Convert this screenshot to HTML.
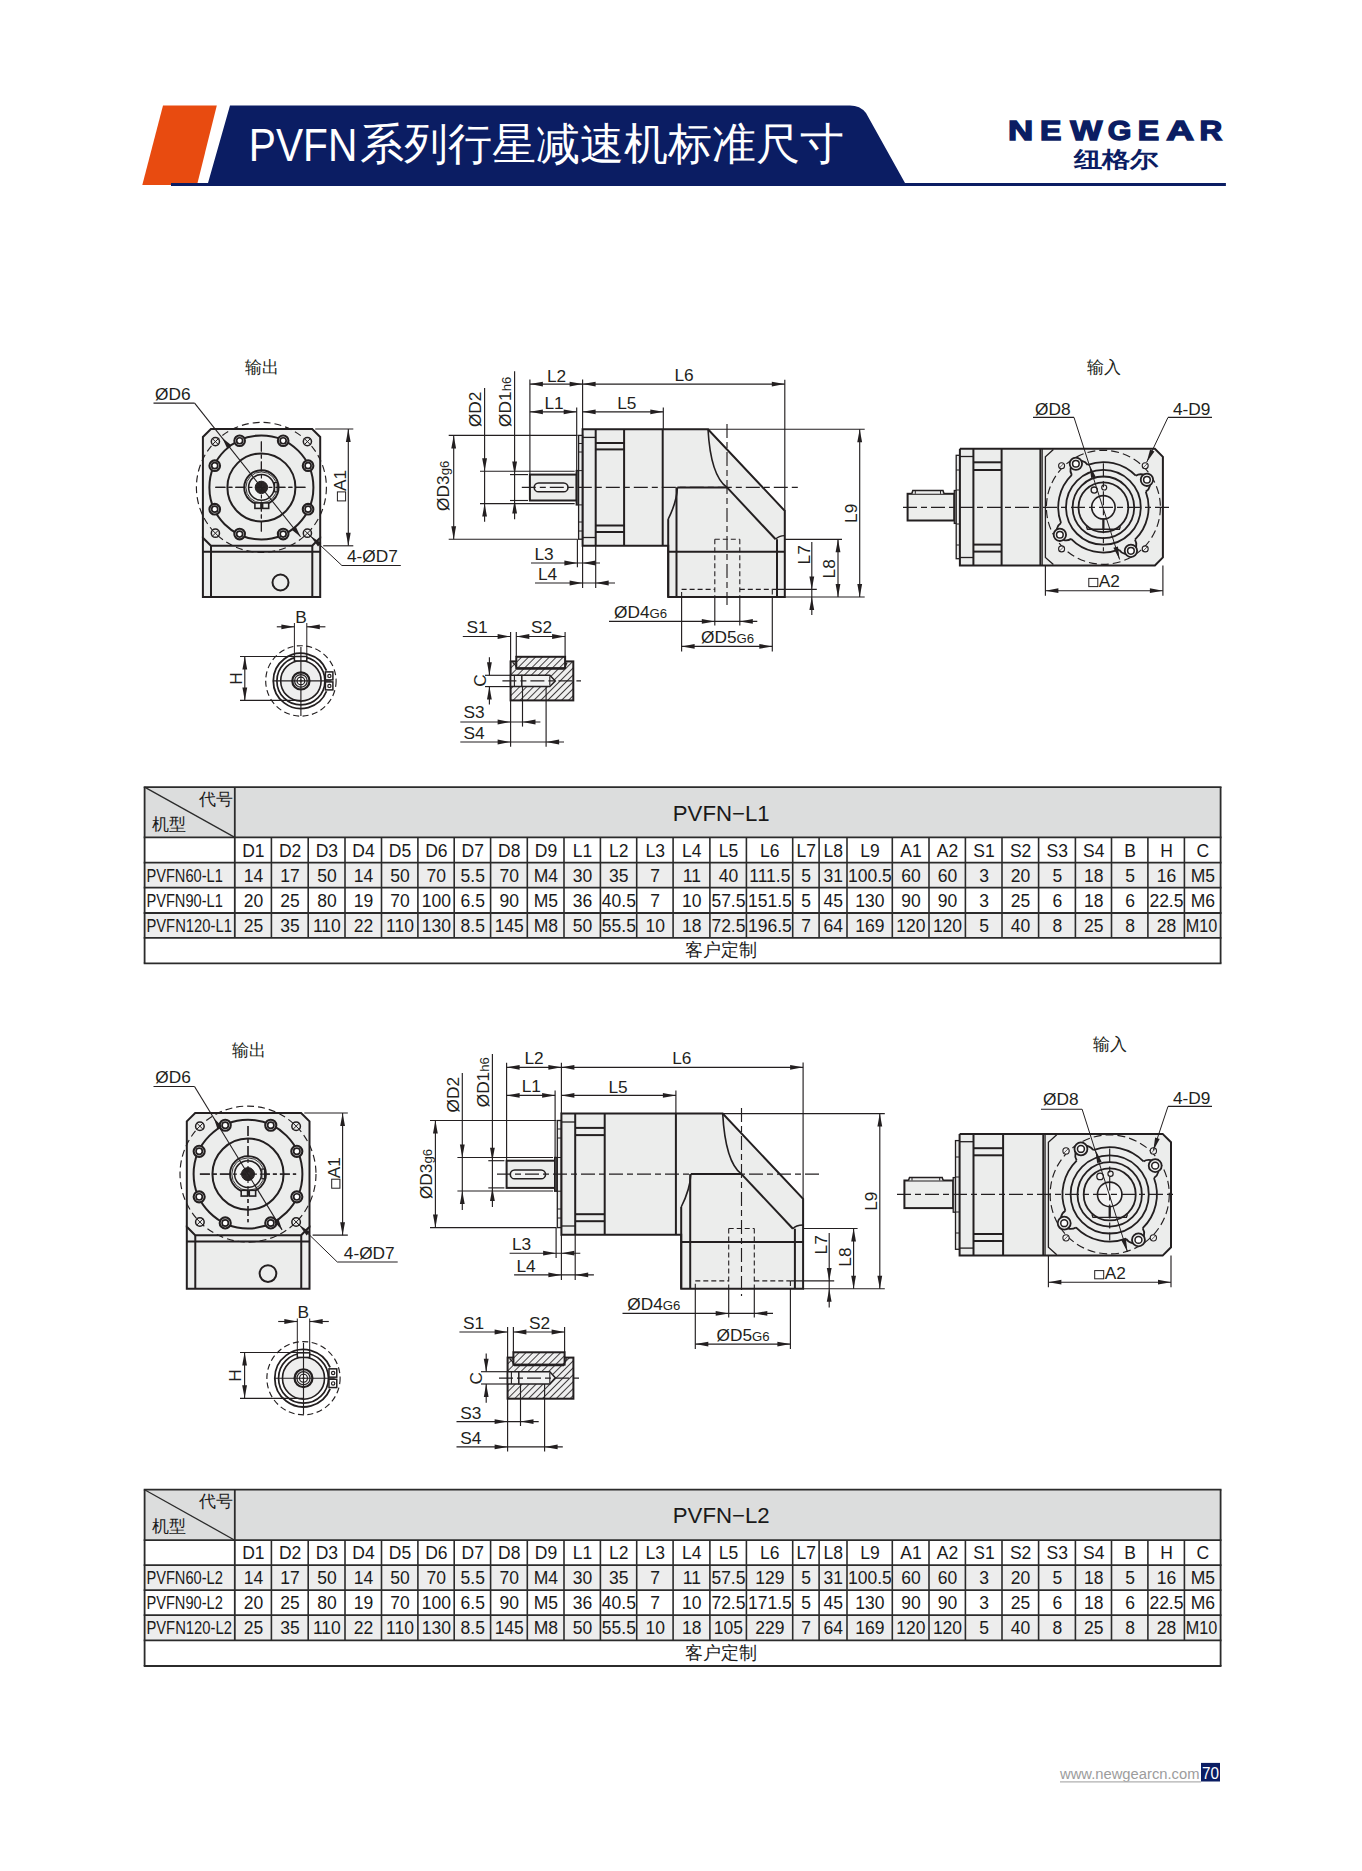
<!DOCTYPE html><html><head><meta charset="utf-8"><style>html,body{margin:0;padding:0;background:#fff;width:1362px;height:1871px;overflow:hidden}svg{display:block;font-family:"Liberation Sans",sans-serif}</style></head><body>
<svg width="1362" height="1871" viewBox="0 0 1362 1871">
<polygon points="163,105.6 216.8,105.6 197,185 142.3,185" fill="#e84b10"/>
<path d="M230,105.6 L850,105.6 Q860,105.6 866,113 L905,183 L1225.9,183 L1225.9,186 L171,186 L171,183 L208,183 Z" fill="#0b1d63"/>
<text x="248.8" y="160.6" font-size="46" fill="#fff" textLength="108.5" lengthAdjust="spacingAndGlyphs">PVFN</text>
<text x="359.5" y="158.6" font-size="43.9" fill="#fff" letter-spacing="0">系列行星减速机标准尺寸</text>
<text transform="translate(1008.09 140.1) scale(1.25 1)" x="0" y="0" font-size="27.9" font-weight="bold" fill="#0b1d63" stroke="#0b1d63" stroke-width="1.4">N</text>
<text transform="translate(1039.99 140.1) scale(1.15 1)" x="0" y="0" font-size="27.9" font-weight="bold" fill="#0b1d63" stroke="#0b1d63" stroke-width="1.4">E</text>
<text transform="translate(1070.27 140.1) scale(1.22 1)" x="0" y="0" font-size="27.9" font-weight="bold" fill="#0b1d63" stroke="#0b1d63" stroke-width="1.4">W</text>
<text transform="translate(1107.85 140.1) scale(1.09 1)" x="0" y="0" font-size="27.9" font-weight="bold" fill="#0b1d63" stroke="#0b1d63" stroke-width="1.4">G</text>
<text transform="translate(1137.79 140.1) scale(1.15 1)" x="0" y="0" font-size="27.9" font-weight="bold" fill="#0b1d63" stroke="#0b1d63" stroke-width="1.4">E</text>
<text transform="translate(1166.28 140.1) scale(1.38 1)" x="0" y="0" font-size="27.9" font-weight="bold" fill="#0b1d63" stroke="#0b1d63" stroke-width="1.4">A</text>
<text transform="translate(1199.51 140.1) scale(1.13 1)" x="0" y="0" font-size="27.9" font-weight="bold" fill="#0b1d63" stroke="#0b1d63" stroke-width="1.4">R</text>
<text x="1073.5" y="166.6" font-size="22" font-weight="bold" fill="#0b1d63" textLength="85" lengthAdjust="spacingAndGlyphs">纽格尔</text>
<polygon points="202.9,537.4 202.9,597 320.2,597 320.2,537.4" fill="#ecedec" stroke="#231f20" stroke-width="2.0" stroke-linejoin="miter"/>
<line x1="202.9" y1="551.8" x2="320.2" y2="551.8" stroke="#231f20" stroke-width="2.0"/>
<line x1="211" y1="545.8" x2="211" y2="597" stroke="#231f20" stroke-width="2.0"/>
<line x1="312.3" y1="545.8" x2="312.3" y2="597" stroke="#231f20" stroke-width="2.0"/>
<circle cx="280.5" cy="582.5" r="8" fill="none" stroke="#231f20" stroke-width="2.0"/>
<polygon points="210.9,429 312.2,429 320.2,437 320.2,537.8 312.2,545.8 210.9,545.8 202.9,537.8 202.9,437" fill="#ecedec" stroke="#231f20" stroke-width="2.0" stroke-linejoin="miter"/>
<circle cx="261.4" cy="487.4" r="65" fill="none" stroke="#231f20" stroke-width="1.15" stroke-dasharray="7,4"/>
<circle cx="261.4" cy="487.4" r="52" fill="none" stroke="#231f20" stroke-width="2.0"/>
<circle cx="261.4" cy="487.4" r="34" fill="none" stroke="#231f20" stroke-width="2.0"/>
<line x1="215.4" y1="487.4" x2="307.4" y2="487.4" stroke="#231f20" stroke-width="1.15" stroke-dasharray="10,3,4,3"/>
<line x1="261.4" y1="441.4" x2="261.4" y2="533.4" stroke="#231f20" stroke-width="1.15" stroke-dasharray="10,3,4,3"/>
<circle cx="308.07" cy="509.16" r="5.3" fill="#ecedec" stroke="#231f20" stroke-width="2.1"/>
<circle cx="308.07" cy="509.16" r="3" fill="#fff" stroke="#231f20" stroke-width="1.7"/>
<circle cx="283.16" cy="534.07" r="5.3" fill="#ecedec" stroke="#231f20" stroke-width="2.1"/>
<circle cx="283.16" cy="534.07" r="3" fill="#fff" stroke="#231f20" stroke-width="1.7"/>
<circle cx="239.64" cy="534.07" r="5.3" fill="#ecedec" stroke="#231f20" stroke-width="2.1"/>
<circle cx="239.64" cy="534.07" r="3" fill="#fff" stroke="#231f20" stroke-width="1.7"/>
<circle cx="214.73" cy="509.16" r="5.3" fill="#ecedec" stroke="#231f20" stroke-width="2.1"/>
<circle cx="214.73" cy="509.16" r="3" fill="#fff" stroke="#231f20" stroke-width="1.7"/>
<circle cx="214.73" cy="465.64" r="5.3" fill="#ecedec" stroke="#231f20" stroke-width="2.1"/>
<circle cx="214.73" cy="465.64" r="3" fill="#fff" stroke="#231f20" stroke-width="1.7"/>
<circle cx="239.64" cy="440.73" r="5.3" fill="#ecedec" stroke="#231f20" stroke-width="2.1"/>
<circle cx="239.64" cy="440.73" r="3" fill="#fff" stroke="#231f20" stroke-width="1.7"/>
<circle cx="283.16" cy="440.73" r="5.3" fill="#ecedec" stroke="#231f20" stroke-width="2.1"/>
<circle cx="283.16" cy="440.73" r="3" fill="#fff" stroke="#231f20" stroke-width="1.7"/>
<circle cx="308.07" cy="465.64" r="5.3" fill="#ecedec" stroke="#231f20" stroke-width="2.1"/>
<circle cx="308.07" cy="465.64" r="3" fill="#fff" stroke="#231f20" stroke-width="1.7"/>
<circle cx="215.4" cy="441.6" r="4.1" fill="#ecedec" stroke="#231f20" stroke-width="1.5"/>
<line x1="212.4" y1="438.6" x2="218.4" y2="444.6" stroke="#231f20" stroke-width="1.0"/>
<line x1="212.4" y1="444.6" x2="218.4" y2="438.6" stroke="#231f20" stroke-width="1.0"/>
<circle cx="215.4" cy="533.2" r="4.1" fill="#ecedec" stroke="#231f20" stroke-width="1.5"/>
<line x1="212.4" y1="530.2" x2="218.4" y2="536.2" stroke="#231f20" stroke-width="1.0"/>
<line x1="212.4" y1="536.2" x2="218.4" y2="530.2" stroke="#231f20" stroke-width="1.0"/>
<circle cx="307.4" cy="441.6" r="4.1" fill="#ecedec" stroke="#231f20" stroke-width="1.5"/>
<line x1="304.4" y1="438.6" x2="310.4" y2="444.6" stroke="#231f20" stroke-width="1.0"/>
<line x1="304.4" y1="444.6" x2="310.4" y2="438.6" stroke="#231f20" stroke-width="1.0"/>
<circle cx="307.4" cy="533.2" r="4.1" fill="#ecedec" stroke="#231f20" stroke-width="1.5"/>
<line x1="304.4" y1="530.2" x2="310.4" y2="536.2" stroke="#231f20" stroke-width="1.0"/>
<line x1="304.4" y1="536.2" x2="310.4" y2="530.2" stroke="#231f20" stroke-width="1.0"/>
<circle cx="261.4" cy="487.4" r="17.2" fill="#ecedec" stroke="#231f20" stroke-width="1.9"/>
<circle cx="261.4" cy="487.4" r="15.5" fill="none" stroke="#231f20" stroke-width="0.9"/>
<circle cx="261.4" cy="487.4" r="12.8" fill="#f4f4f4" stroke="#231f20" stroke-width="1.5"/>
<circle cx="261.4" cy="487.4" r="6.2" fill="#2a2526" stroke="#231f20" stroke-width="1"/>
<line x1="259.9" y1="487.4" x2="262.9" y2="487.4" stroke="#ddd" stroke-width="0.6"/>
<line x1="261.4" y1="485.9" x2="261.4" y2="488.9" stroke="#ddd" stroke-width="0.6"/>
<rect x="274.6" y="482.6" width="2.6" height="9.2" fill="#ecedec" stroke="#231f20" stroke-width="1.2"/>
<rect x="254.9" y="502.9" width="6.1" height="5.5" fill="#ecedec" stroke="#231f20" stroke-width="1.6"/>
<rect x="262.6" y="502.9" width="6.1" height="5.5" fill="#ecedec" stroke="#231f20" stroke-width="1.6"/>
<line x1="215.4" y1="487.4" x2="307.4" y2="487.4" stroke="#231f20" stroke-width="1.15" stroke-dasharray="10,3,4,3"/>
<line x1="261.4" y1="441.4" x2="261.4" y2="533.4" stroke="#231f20" stroke-width="1.15" stroke-dasharray="10,3,4,3"/>
<line x1="153.5" y1="403.1" x2="194.6" y2="403.1" stroke="#231f20" stroke-width="1.1"/>
<line x1="194.6" y1="403.1" x2="300.53" y2="536.78" stroke="#231f20" stroke-width="1.1"/>
<polygon points="222.27,438.02 231.14,445.03 227.07,448.26" fill="#231f20"/>
<polygon points="300.53,536.78 291.66,529.77 295.73,526.54" fill="#231f20"/>
<text x="155" y="399.5" font-size="17.3" text-anchor="start" fill="#231f20">ØD6</text>
<line x1="307.4" y1="533.2" x2="341.9" y2="565.5" stroke="#231f20" stroke-width="1.0"/>
<line x1="341.9" y1="565.5" x2="400.8" y2="565.5" stroke="#231f20" stroke-width="1.1"/>
<polygon points="310.17,535.8 321.3,542.93 318.02,546.43" fill="#231f20"/>
<text x="347" y="562.3" font-size="17.3" text-anchor="start" fill="#231f20">4-ØD7</text>
<line x1="315.2" y1="429" x2="353.3" y2="429" stroke="#231f20" stroke-width="1.15"/>
<line x1="323.2" y1="545.8" x2="353.3" y2="545.8" stroke="#231f20" stroke-width="1.15"/>
<line x1="348.3" y1="429" x2="348.3" y2="545.8" stroke="#231f20" stroke-width="1.15"/>
<polygon points="348.3,429 350.7,442 345.9,442" fill="#231f20"/>
<polygon points="348.3,545.8 345.9,532.8 350.7,532.8" fill="#231f20"/>
<g transform="translate(346 501.5) rotate(-90)"><rect x="0.6" y="-8.6" width="9" height="8.2" fill="none" stroke="#231f20" stroke-width="1"/><text x="10.6" y="0" font-size="17.3" fill="#231f20">A1</text></g>
<text x="245" y="373" font-size="16.5" text-anchor="start" fill="#231f20">输出</text>
<polygon points="582.6,429.2 708,429.2 784.8,510.9 784.8,597 668.2,597 668.2,545.7 582.6,545.7" fill="#ecedec" stroke="#231f20" stroke-width="0" stroke-linejoin="miter"/>
<rect x="529.9" y="474.6" width="46.8" height="25.9" fill="#ecedec" stroke="#231f20" stroke-width="2.0"/>
<rect x="534.2" y="483" width="33.8" height="8.8" rx="4.4" fill="#f2f2f2" stroke="#231f20" stroke-width="1.6"/>
<rect x="576.3" y="470.6" width="2.3" height="34.3" fill="#555" stroke="#231f20" stroke-width="1.4"/>
<rect x="578.6" y="435.4" width="4" height="103.8" fill="#ecedec" stroke="#231f20" stroke-width="1.3"/>
<line x1="578.6" y1="443.5" x2="582.6" y2="443.5" stroke="#231f20" stroke-width="1.0"/>
<line x1="578.6" y1="452" x2="582.6" y2="452" stroke="#231f20" stroke-width="1.0"/>
<line x1="578.6" y1="470.6" x2="582.6" y2="470.6" stroke="#231f20" stroke-width="1.0"/>
<line x1="578.6" y1="504.9" x2="582.6" y2="504.9" stroke="#231f20" stroke-width="1.0"/>
<line x1="578.6" y1="522" x2="582.6" y2="522" stroke="#231f20" stroke-width="1.0"/>
<line x1="578.6" y1="531" x2="582.6" y2="531" stroke="#231f20" stroke-width="1.0"/>
<polygon points="582.6,429.2 708,429.2 784.8,510.9 784.8,597 668.2,597 668.2,545.7 582.6,545.7" fill="none" stroke="#231f20" stroke-width="2.0" stroke-linejoin="miter"/>
<line x1="595.7" y1="429.2" x2="595.7" y2="545.7" stroke="#231f20" stroke-width="2.0"/>
<line x1="624.1" y1="429.2" x2="624.1" y2="545.7" stroke="#231f20" stroke-width="2.0"/>
<line x1="662.7" y1="429.2" x2="662.7" y2="545.7" stroke="#231f20" stroke-width="2.0"/>
<line x1="595.7" y1="443" x2="624.1" y2="443" stroke="#231f20" stroke-width="2.0"/>
<line x1="595.7" y1="449.4" x2="624.1" y2="449.4" stroke="#231f20" stroke-width="2.0"/>
<line x1="595.7" y1="525.5" x2="624.1" y2="525.5" stroke="#231f20" stroke-width="2.0"/>
<line x1="595.7" y1="532" x2="624.1" y2="532" stroke="#231f20" stroke-width="2.0"/>
<line x1="582.6" y1="437.4" x2="595.7" y2="437.4" stroke="#231f20" stroke-width="1.3"/>
<line x1="582.6" y1="537.5" x2="595.7" y2="537.5" stroke="#231f20" stroke-width="1.3"/>
<path d="M708,429.2 C709.5,455.39 714.65,478.67 727,487.4" fill="none" stroke="#231f20" stroke-width="1.6"/>
<line x1="677.4" y1="487.4" x2="727" y2="487.4" stroke="#231f20" stroke-width="2.0"/>
<line x1="727" y1="487.4" x2="775.6" y2="539.3" stroke="#231f20" stroke-width="2.0"/>
<path d="M775.6,539.3 Q778.6,535.8 784.8,535.6" fill="none" stroke="#231f20" stroke-width="1.4"/>
<path d="M677.4,487.4 C676.9,501.4 671.2,513.1 668.2,519.1" fill="none" stroke="#231f20" stroke-width="1.6"/>
<line x1="668.2" y1="519.1" x2="668.2" y2="597" stroke="#231f20" stroke-width="2.0"/>
<line x1="676.5" y1="487.4" x2="676.5" y2="597" stroke="#231f20" stroke-width="2.0"/>
<line x1="668.2" y1="551.8" x2="784.8" y2="551.8" stroke="#231f20" stroke-width="2.0"/>
<line x1="777" y1="539.3" x2="777" y2="597" stroke="#231f20" stroke-width="2.0"/>
<line x1="714.8" y1="539.3" x2="739.8" y2="539.3" stroke="#231f20" stroke-width="1.1" stroke-dasharray="5,3"/>
<line x1="714.8" y1="539.3" x2="714.8" y2="597" stroke="#231f20" stroke-width="1.1" stroke-dasharray="5,3"/>
<line x1="739.8" y1="539.3" x2="739.8" y2="597" stroke="#231f20" stroke-width="1.1" stroke-dasharray="5,3"/>
<line x1="681.6" y1="597" x2="681.6" y2="589.4" stroke="#231f20" stroke-width="1.1" stroke-dasharray="5,3"/>
<line x1="681.6" y1="589.4" x2="714.8" y2="589.4" stroke="#231f20" stroke-width="1.1" stroke-dasharray="5,3"/>
<line x1="739.8" y1="589.4" x2="772.3" y2="589.4" stroke="#231f20" stroke-width="1.1" stroke-dasharray="5,3"/>
<line x1="772.3" y1="589.4" x2="772.3" y2="597" stroke="#231f20" stroke-width="1.1" stroke-dasharray="5,3"/>
<line x1="727" y1="423.9" x2="727" y2="604.9" stroke="#231f20" stroke-width="1.15" stroke-dasharray="14,4,6,4"/>
<line x1="521.8" y1="487.4" x2="801.4" y2="487.4" stroke="#231f20" stroke-width="1.15" stroke-dasharray="14,4,6,4"/>
<line x1="448.7" y1="435.4" x2="577.6" y2="435.4" stroke="#231f20" stroke-width="1.15"/>
<line x1="448.7" y1="539.2" x2="577.6" y2="539.2" stroke="#231f20" stroke-width="1.15"/>
<line x1="453.7" y1="435.4" x2="453.7" y2="539.2" stroke="#231f20" stroke-width="1.15"/>
<polygon points="453.7,435.4 456.1,448.4 451.3,448.4" fill="#231f20"/>
<polygon points="453.7,539.2 451.3,526.2 456.1,526.2" fill="#231f20"/>
<text x="449" y="485.8" font-size="17.3" text-anchor="middle" fill="#231f20" transform="rotate(-90 449 485.8)">ØD3<tspan font-size="13.2">g6</tspan></text>
<line x1="480" y1="471.2" x2="574.7" y2="471.2" stroke="#231f20" stroke-width="1.15"/>
<line x1="480" y1="503.6" x2="574.7" y2="503.6" stroke="#231f20" stroke-width="1.15"/>
<line x1="484.6" y1="388" x2="484.6" y2="521.7" stroke="#231f20" stroke-width="1.15"/>
<polygon points="484.6,471.2 482.2,458.2 487,458.2" fill="#231f20"/>
<polygon points="484.6,503.6 487,516.6 482.2,516.6" fill="#231f20"/>
<text x="481" y="409.3" font-size="17.3" text-anchor="middle" fill="#231f20" transform="rotate(-90 481 409.3)">ØD2</text>
<line x1="510" y1="474.6" x2="528" y2="474.6" stroke="#231f20" stroke-width="1.15"/>
<line x1="510" y1="500.5" x2="528" y2="500.5" stroke="#231f20" stroke-width="1.15"/>
<line x1="514.6" y1="371.2" x2="514.6" y2="519.3" stroke="#231f20" stroke-width="1.15"/>
<polygon points="514.6,474.6 512.2,461.6 517,461.6" fill="#231f20"/>
<polygon points="514.6,500.5 517,513.5 512.2,513.5" fill="#231f20"/>
<text x="511" y="401.8" font-size="17.3" text-anchor="middle" fill="#231f20" transform="rotate(-90 511 401.8)">ØD1<tspan font-size="13.2">h6</tspan></text>
<line x1="529.9" y1="379.4" x2="529.9" y2="474.6" stroke="#231f20" stroke-width="1.15"/>
<line x1="582.6" y1="379.4" x2="582.6" y2="429.2" stroke="#231f20" stroke-width="1.15"/>
<line x1="529.9" y1="384.1" x2="784.8" y2="384.1" stroke="#231f20" stroke-width="1.15"/>
<polygon points="529.9,384.1 542.9,381.7 542.9,386.5" fill="#231f20"/>
<polygon points="582.6,384.1 569.6,386.5 569.6,381.7" fill="#231f20"/>
<polygon points="582.6,384.1 595.6,381.7 595.6,386.5" fill="#231f20"/>
<polygon points="784.8,384.1 771.8,386.5 771.8,381.7" fill="#231f20"/>
<line x1="784.8" y1="379.8" x2="784.8" y2="510.9" stroke="#231f20" stroke-width="1.15"/>
<text x="556.5" y="381.8" font-size="17.3" text-anchor="middle" fill="#231f20">L2</text>
<text x="684" y="381.4" font-size="17.3" text-anchor="middle" fill="#231f20">L6</text>
<line x1="576.7" y1="407.4" x2="576.7" y2="470.6" stroke="#231f20" stroke-width="1.15"/>
<line x1="529.9" y1="411.8" x2="576.7" y2="411.8" stroke="#231f20" stroke-width="1.15"/>
<polygon points="529.9,411.8 542.9,409.4 542.9,414.2" fill="#231f20"/>
<polygon points="576.7,411.8 563.7,414.2 563.7,409.4" fill="#231f20"/>
<line x1="582.6" y1="411.8" x2="663.3" y2="411.8" stroke="#231f20" stroke-width="1.15"/>
<polygon points="582.6,411.8 595.6,409.4 595.6,414.2" fill="#231f20"/>
<polygon points="663.3,411.8 650.3,414.2 650.3,409.4" fill="#231f20"/>
<line x1="663.3" y1="407.4" x2="663.3" y2="429.2" stroke="#231f20" stroke-width="1.15"/>
<text x="554" y="409.3" font-size="17.3" text-anchor="middle" fill="#231f20">L1</text>
<text x="626.8" y="408.9" font-size="17.3" text-anchor="middle" fill="#231f20">L5</text>
<line x1="577.4" y1="539.2" x2="577.4" y2="567.3" stroke="#231f20" stroke-width="1.15"/>
<line x1="582.6" y1="545.7" x2="582.6" y2="588" stroke="#231f20" stroke-width="1.15"/>
<line x1="595.7" y1="545.7" x2="595.7" y2="588" stroke="#231f20" stroke-width="1.15"/>
<line x1="531" y1="563" x2="600" y2="563" stroke="#231f20" stroke-width="1.15"/>
<polygon points="577.4,563 564.4,565.4 564.4,560.6" fill="#231f20"/>
<polygon points="582.6,563 595.6,560.6 595.6,565.4" fill="#231f20"/>
<line x1="535" y1="583" x2="615" y2="583" stroke="#231f20" stroke-width="1.15"/>
<polygon points="582.6,583 569.6,585.4 569.6,580.6" fill="#231f20"/>
<polygon points="595.7,583 608.7,580.6 608.7,585.4" fill="#231f20"/>
<text x="544" y="559.6" font-size="17.3" text-anchor="middle" fill="#231f20">L3</text>
<text x="547.6" y="580.2" font-size="17.3" text-anchor="middle" fill="#231f20">L4</text>
<line x1="708" y1="429.2" x2="864.7" y2="429.2" stroke="#231f20" stroke-width="1.15"/>
<line x1="784.8" y1="597" x2="864.7" y2="597" stroke="#231f20" stroke-width="1.15"/>
<line x1="784.8" y1="539.3" x2="842" y2="539.3" stroke="#231f20" stroke-width="1.15"/>
<line x1="772.3" y1="589.4" x2="816.8" y2="589.4" stroke="#231f20" stroke-width="1.15"/>
<line x1="811.8" y1="542" x2="811.8" y2="615" stroke="#231f20" stroke-width="1.15"/>
<polygon points="811.8,589.4 809.4,576.4 814.2,576.4" fill="#231f20"/>
<polygon points="811.8,597 814.2,610 809.4,610" fill="#231f20"/>
<line x1="838" y1="539.3" x2="838" y2="597" stroke="#231f20" stroke-width="1.15"/>
<polygon points="838,539.3 840.4,552.3 835.6,552.3" fill="#231f20"/>
<polygon points="838,597 835.6,584 840.4,584" fill="#231f20"/>
<line x1="859.7" y1="429.2" x2="859.7" y2="597" stroke="#231f20" stroke-width="1.15"/>
<polygon points="859.7,429.2 862.1,442.2 857.3,442.2" fill="#231f20"/>
<polygon points="859.7,597 857.3,584 862.1,584" fill="#231f20"/>
<text x="809.8" y="554.8" font-size="17.3" text-anchor="middle" fill="#231f20" transform="rotate(-90 809.8 554.8)">L7</text>
<text x="835.5" y="568.8" font-size="17.3" text-anchor="middle" fill="#231f20" transform="rotate(-90 835.5 568.8)">L8</text>
<text x="857" y="513.3" font-size="17.3" text-anchor="middle" fill="#231f20" transform="rotate(-90 857 513.3)">L9</text>
<line x1="714.8" y1="597" x2="714.8" y2="625.4" stroke="#231f20" stroke-width="1.15"/>
<line x1="739.8" y1="597" x2="739.8" y2="625.4" stroke="#231f20" stroke-width="1.15"/>
<line x1="609" y1="621.4" x2="757.3" y2="621.4" stroke="#231f20" stroke-width="1.15"/>
<polygon points="714.8,621.4 701.8,623.8 701.8,619" fill="#231f20"/>
<polygon points="739.8,621.4 752.8,619 752.8,623.8" fill="#231f20"/>
<text x="614" y="617.8" font-size="17.3" text-anchor="start" fill="#231f20">ØD4<tspan font-size="13.2">G6</tspan></text>
<line x1="681.6" y1="597" x2="681.6" y2="651.4" stroke="#231f20" stroke-width="1.15"/>
<line x1="772.3" y1="597" x2="772.3" y2="651.4" stroke="#231f20" stroke-width="1.15"/>
<line x1="681.6" y1="646.4" x2="772.3" y2="646.4" stroke="#231f20" stroke-width="1.15"/>
<polygon points="681.6,646.4 694.6,644 694.6,648.8" fill="#231f20"/>
<polygon points="772.3,646.4 759.3,648.8 759.3,644" fill="#231f20"/>
<text x="701" y="642.9" font-size="17.3" text-anchor="start" fill="#231f20">ØD5<tspan font-size="13.2">G6</tspan></text>
<rect x="907.6" y="493.8" width="46.7" height="26.7" fill="#ecedec" stroke="#231f20" stroke-width="2.0"/>
<path d="M911.8,493.8 L912.8,490.5 L943,490.5 L944,493.8" fill="#ecedec" stroke="#231f20" stroke-width="1.5"/>
<line x1="915.3" y1="490.5" x2="915.3" y2="493.8" stroke="#231f20" stroke-width="1.0"/>
<line x1="940.5" y1="490.5" x2="940.5" y2="493.8" stroke="#231f20" stroke-width="1.0"/>
<rect x="954.3" y="490.5" width="1.9" height="32.9" fill="#ecedec" stroke="#231f20" stroke-width="1.3"/>
<rect x="956.2" y="455.3" width="3.7" height="103.4" fill="#ecedec" stroke="#231f20" stroke-width="1.3"/>
<line x1="956.2" y1="470" x2="959.9" y2="470" stroke="#231f20" stroke-width="1.0"/>
<line x1="956.2" y1="490" x2="959.9" y2="490" stroke="#231f20" stroke-width="1.0"/>
<line x1="956.2" y1="524" x2="959.9" y2="524" stroke="#231f20" stroke-width="1.0"/>
<line x1="956.2" y1="545" x2="959.9" y2="545" stroke="#231f20" stroke-width="1.0"/>
<polygon points="959.9,448.8 1154.9,448.8 1162.9,456.8 1162.9,557.4 1154.9,565.4 959.9,565.4" fill="#ecedec" stroke="#231f20" stroke-width="0" stroke-linejoin="miter"/>
<line x1="973.4" y1="448.8" x2="973.4" y2="565.4" stroke="#231f20" stroke-width="2.0"/>
<line x1="1001.6" y1="448.8" x2="1001.6" y2="565.4" stroke="#231f20" stroke-width="2.0"/>
<line x1="1040.4" y1="448.8" x2="1040.4" y2="565.4" stroke="#231f20" stroke-width="2.0"/>
<line x1="1042.2" y1="448.8" x2="1042.2" y2="565.4" stroke="#231f20" stroke-width="1.2"/>
<line x1="973.4" y1="462.3" x2="1001.6" y2="462.3" stroke="#231f20" stroke-width="2.0"/>
<line x1="973.4" y1="470" x2="1001.6" y2="470" stroke="#231f20" stroke-width="2.0"/>
<line x1="973.4" y1="544.6" x2="1001.6" y2="544.6" stroke="#231f20" stroke-width="2.0"/>
<line x1="973.4" y1="551.6" x2="1001.6" y2="551.6" stroke="#231f20" stroke-width="2.0"/>
<line x1="959.9" y1="456.5" x2="973.4" y2="456.5" stroke="#231f20" stroke-width="1.3"/>
<line x1="959.9" y1="557.5" x2="973.4" y2="557.5" stroke="#231f20" stroke-width="1.3"/>
<polyline points="959.9,448.8 1154.9,448.8 1162.9,456.8 1162.9,557.4 1154.9,565.4 959.9,565.4 959.9,448.8" fill="none" stroke="#231f20" stroke-width="2.0" stroke-linejoin="miter"/>
<polyline points="1053.4,449.6 1045.4,456.8 1045.4,557.4 1053.4,564.6" fill="none" stroke="#231f20" stroke-width="1.3" stroke-linejoin="miter"/>
<circle cx="1103.4" cy="507.3" r="57" fill="none" stroke="#231f20" stroke-width="1.15" stroke-dasharray="8,4"/>
<path d="M1087.72,464.91 A45.2,45.2 0 0 1 1135.75,475.73 M1145.79,491.62 A45.2,45.2 0 0 1 1134.97,539.65 M1119.08,549.69 A45.2,45.2 0 0 1 1071.05,538.87 M1061.01,522.98 A45.2,45.2 0 0 1 1071.83,474.95 " fill="none" stroke="#231f20" stroke-width="1.8"/>
<path d="M1071.83,474.95 A8.3,8.3 0 1 1 1087.72,464.91" fill="none" stroke="#231f20" stroke-width="1.8"/>
<circle cx="1075.88" cy="463.77" r="6.2" fill="#ecedec" stroke="#231f20" stroke-width="1.8"/>
<circle cx="1075.88" cy="463.77" r="3.3" fill="#fff" stroke="#231f20" stroke-width="1.5"/>
<path d="M1135.75,475.73 A8.3,8.3 0 1 1 1145.79,491.62" fill="none" stroke="#231f20" stroke-width="1.8"/>
<circle cx="1146.93" cy="479.78" r="6.2" fill="#ecedec" stroke="#231f20" stroke-width="1.8"/>
<circle cx="1146.93" cy="479.78" r="3.3" fill="#fff" stroke="#231f20" stroke-width="1.5"/>
<path d="M1134.97,539.65 A8.3,8.3 0 1 1 1119.08,549.69" fill="none" stroke="#231f20" stroke-width="1.8"/>
<circle cx="1130.92" cy="550.83" r="6.2" fill="#ecedec" stroke="#231f20" stroke-width="1.8"/>
<circle cx="1130.92" cy="550.83" r="3.3" fill="#fff" stroke="#231f20" stroke-width="1.5"/>
<path d="M1071.05,538.87 A8.3,8.3 0 1 1 1061.01,522.98" fill="none" stroke="#231f20" stroke-width="1.8"/>
<circle cx="1059.87" cy="534.82" r="6.2" fill="#ecedec" stroke="#231f20" stroke-width="1.8"/>
<circle cx="1059.87" cy="534.82" r="3.3" fill="#fff" stroke="#231f20" stroke-width="1.5"/>
<circle cx="1103.4" cy="507.3" r="37.4" fill="none" stroke="#231f20" stroke-width="1.8"/>
<circle cx="1103.4" cy="507.3" r="30.8" fill="none" stroke="#231f20" stroke-width="1.8"/>
<circle cx="1103.4" cy="507.3" r="24.9" fill="none" stroke="#231f20" stroke-width="1.8"/>
<circle cx="1103.4" cy="507.3" r="11.7" fill="#f4f4f4" stroke="#231f20" stroke-width="1.6"/>
<circle cx="1094.2" cy="490.1" r="3.1" fill="#f4f4f4" stroke="#231f20" stroke-width="1.3"/>
<circle cx="1104.2" cy="487.5" r="2.5" fill="#f4f4f4" stroke="#231f20" stroke-width="1.2"/>
<path d="M1086.4,526.3 L1087.4,529.3 L1119.4,529.3 L1120.4,526.3" fill="none" stroke="#231f20" stroke-width="1.4"/>
<line x1="1103.4" y1="518.3" x2="1103.4" y2="529.3" stroke="#231f20" stroke-width="2.2"/>
<circle cx="1061.6" cy="465.7" r="3" fill="#f4f4f4" stroke="#231f20" stroke-width="1.1"/>
<line x1="1059.4" y1="467.9" x2="1063.8" y2="463.5" stroke="#231f20" stroke-width="0.7"/>
<circle cx="1061.6" cy="548.9" r="3" fill="#f4f4f4" stroke="#231f20" stroke-width="1.1"/>
<line x1="1059.4" y1="551.1" x2="1063.8" y2="546.7" stroke="#231f20" stroke-width="0.7"/>
<circle cx="1145.2" cy="465.7" r="3" fill="#f4f4f4" stroke="#231f20" stroke-width="1.1"/>
<line x1="1143" y1="467.9" x2="1147.4" y2="463.5" stroke="#231f20" stroke-width="0.7"/>
<circle cx="1145.2" cy="548.9" r="3" fill="#f4f4f4" stroke="#231f20" stroke-width="1.1"/>
<line x1="1143" y1="551.1" x2="1147.4" y2="546.7" stroke="#231f20" stroke-width="0.7"/>
<line x1="903" y1="507.3" x2="1171.7" y2="507.3" stroke="#231f20" stroke-width="1.15" stroke-dasharray="14,4,6,4"/>
<line x1="1103.4" y1="463.3" x2="1103.4" y2="551.3" stroke="#231f20" stroke-width="1.15" stroke-dasharray="14,4,6,4"/>
<line x1="1033" y1="417.4" x2="1074" y2="417.4" stroke="#231f20" stroke-width="1.1"/>
<line x1="1074" y1="417.4" x2="1119.6" y2="559.5" stroke="#231f20" stroke-width="1.0"/>
<polygon points="1089.5,465 1095.73,476.66 1091.16,478.12" fill="#231f20"/>
<polygon points="1119.6,559.5 1113.37,547.84 1117.94,546.38" fill="#231f20"/>
<text x="1035" y="414.5" font-size="17.3" text-anchor="start" fill="#231f20">ØD8</text>
<line x1="1168" y1="417.4" x2="1212" y2="417.4" stroke="#231f20" stroke-width="1.1"/>
<line x1="1168" y1="417.4" x2="1146.7" y2="462.2" stroke="#231f20" stroke-width="1.0"/>
<polygon points="1146.7,462.2 1150.11,449.43 1154.45,451.49" fill="#231f20"/>
<text x="1173" y="414.8" font-size="17.3" text-anchor="start" fill="#231f20">4-D9</text>
<line x1="1045.4" y1="565.4" x2="1045.4" y2="595.7" stroke="#231f20" stroke-width="1.15"/>
<line x1="1162.9" y1="565.4" x2="1162.9" y2="595.7" stroke="#231f20" stroke-width="1.15"/>
<line x1="1045.4" y1="590.7" x2="1162.9" y2="590.7" stroke="#231f20" stroke-width="1.15"/>
<polygon points="1045.4,590.7 1058.4,588.3 1058.4,593.1" fill="#231f20"/>
<polygon points="1162.9,590.7 1149.9,593.1 1149.9,588.3" fill="#231f20"/>
<g transform="translate(1088.2 587)"><rect x="0.6" y="-8.6" width="9" height="8.2" fill="none" stroke="#231f20" stroke-width="1"/><text x="10.6" y="0" font-size="17.3" fill="#231f20">A2</text></g>
<text x="1087" y="372.5" font-size="16.5" text-anchor="start" fill="#231f20">输入</text>
<circle cx="300.9" cy="680.9" r="35.2" fill="none" stroke="#231f20" stroke-width="1.15" stroke-dasharray="6,3.5"/>
<path d="M326.49,670.56 A27.6,27.6 0 1 0 326.49,691.24" fill="none" stroke="#231f20" stroke-width="1.8"/>
<circle cx="300.9" cy="680.9" r="24" fill="none" stroke="#231f20" stroke-width="1.7"/>
<circle cx="300.9" cy="680.9" r="20.2" fill="#eeeeee" stroke="#231f20" stroke-width="1.6"/>
<rect x="325.4" y="671.9" width="7.5" height="8" fill="#fff" stroke="#231f20" stroke-width="1.5"/>
<circle cx="329.4" cy="675.9" r="1.6" fill="none" stroke="#231f20" stroke-width="1.2"/>
<rect x="325.4" y="681.9" width="7.5" height="8" fill="#fff" stroke="#231f20" stroke-width="1.5"/>
<circle cx="329.4" cy="685.9" r="1.6" fill="none" stroke="#231f20" stroke-width="1.2"/>
<circle cx="300.9" cy="680.9" r="8.6" fill="#eeeeee" stroke="#231f20" stroke-width="2.2"/>
<circle cx="300.9" cy="680.9" r="6.3" fill="none" stroke="#231f20" stroke-width="1.2"/>
<circle cx="300.9" cy="680.9" r="3.8" fill="#fff" stroke="#231f20" stroke-width="1.2"/>
<rect x="294.4" y="656.5" width="12.4" height="4.4" fill="#fff" stroke="#231f20" stroke-width="1.5"/>
<line x1="294.4" y1="623" x2="294.4" y2="656.5" stroke="#231f20" stroke-width="1.0"/>
<line x1="306.8" y1="623" x2="306.8" y2="656.5" stroke="#231f20" stroke-width="1.0"/>
<line x1="272.9" y1="680.9" x2="330.9" y2="680.9" stroke="#231f20" stroke-width="1.15"/>
<line x1="300.9" y1="646.9" x2="300.9" y2="715.9" stroke="#231f20" stroke-width="1.15"/>
<line x1="299.1" y1="680.9" x2="302.7" y2="680.9" stroke="#231f20" stroke-width="0.8"/>
<line x1="300.9" y1="679.1" x2="300.9" y2="682.7" stroke="#231f20" stroke-width="0.8"/>
<line x1="276.8" y1="626.8" x2="294.4" y2="626.8" stroke="#231f20" stroke-width="1.15"/>
<polygon points="294.4,626.8 281.4,629.2 281.4,624.4" fill="#231f20"/>
<line x1="306.8" y1="626.8" x2="325.4" y2="626.8" stroke="#231f20" stroke-width="1.15"/>
<polygon points="306.8,626.8 319.8,624.4 319.8,629.2" fill="#231f20"/>
<text x="301.1" y="623.1" font-size="17.3" text-anchor="middle" fill="#231f20">B</text>
<line x1="240" y1="656.5" x2="300.9" y2="656.5" stroke="#231f20" stroke-width="1.15"/>
<line x1="240" y1="700.4" x2="300.9" y2="700.4" stroke="#231f20" stroke-width="1.15"/>
<line x1="244.8" y1="656.5" x2="244.8" y2="700.4" stroke="#231f20" stroke-width="1.15"/>
<polygon points="244.8,656.5 247.2,669.5 242.4,669.5" fill="#231f20"/>
<polygon points="244.8,700.4 242.4,687.4 247.2,687.4" fill="#231f20"/>
<text x="241.6" y="678.5" font-size="17.3" text-anchor="middle" fill="#231f20" transform="rotate(-90 241.6 678.5)">H</text>
<defs><pattern id="hatch1" patternUnits="userSpaceOnUse" width="4.9" height="4.9" patternTransform="rotate(45)"><rect width="4.9" height="4.9" fill="#efefef"/><line x1="0" y1="0" x2="0" y2="4.9" stroke="#231f20" stroke-width="1.7"/></pattern></defs>
<rect x="510.6" y="661.4" width="62.7" height="39" fill="url(#hatch1)" stroke="#231f20" stroke-width="2.0"/>
<rect x="516.3" y="656.8" width="48.8" height="11.3" fill="url(#hatch1)" stroke="#231f20" stroke-width="2.0"/>
<path d="M512.6,662.4 L515.3,665.1 L517.3,669.1 L564.1,669.1 L567.1,662.4" fill="none" stroke="#231f20" stroke-width="1.2"/>
<path d="M510.6,675.3 L549.8,675.3 L555.3,680.95 L549.8,686.6 L510.6,686.6 Z" fill="#f2f2f2" stroke="#231f20" stroke-width="1.5"/>
<line x1="514.4" y1="675.3" x2="514.4" y2="686.6" stroke="#231f20" stroke-width="1.1"/>
<line x1="521.8" y1="674.8" x2="521.8" y2="687.1" stroke="#231f20" stroke-width="1.5"/>
<line x1="549.8" y1="676.3" x2="549.8" y2="685.6" stroke="#231f20" stroke-width="1.1"/>
<line x1="502.4" y1="680.9" x2="581" y2="680.9" stroke="#231f20" stroke-width="1.15" stroke-dasharray="14,4,6,4"/>
<line x1="485" y1="675.3" x2="510.6" y2="675.3" stroke="#231f20" stroke-width="1.15"/>
<line x1="485" y1="686.6" x2="510.6" y2="686.6" stroke="#231f20" stroke-width="1.15"/>
<line x1="489.4" y1="657.3" x2="489.4" y2="675.3" stroke="#231f20" stroke-width="1.15"/>
<polygon points="489.4,675.3 487,662.3 491.8,662.3" fill="#231f20"/>
<line x1="489.4" y1="686.6" x2="489.4" y2="704.6" stroke="#231f20" stroke-width="1.15"/>
<polygon points="489.4,686.6 491.8,699.6 487,699.6" fill="#231f20"/>
<text x="485.8" y="680.5" font-size="17.3" text-anchor="middle" fill="#231f20" transform="rotate(-90 485.8 680.5)">C</text>
<line x1="510.6" y1="632" x2="510.6" y2="661.4" stroke="#231f20" stroke-width="1.15"/>
<line x1="516.3" y1="632" x2="516.3" y2="656.8" stroke="#231f20" stroke-width="1.15"/>
<line x1="565.1" y1="632" x2="565.1" y2="656.8" stroke="#231f20" stroke-width="1.15"/>
<line x1="462.8" y1="636.5" x2="510.6" y2="636.5" stroke="#231f20" stroke-width="1.15"/>
<polygon points="510.6,636.5 497.6,638.9 497.6,634.1" fill="#231f20"/>
<line x1="516.3" y1="636.5" x2="565.1" y2="636.5" stroke="#231f20" stroke-width="1.15"/>
<polygon points="516.3,636.5 529.3,634.1 529.3,638.9" fill="#231f20"/>
<polygon points="565.1,636.5 552.1,638.9 552.1,634.1" fill="#231f20"/>
<text x="466.5" y="633.1" font-size="17.3" text-anchor="start" fill="#231f20">S1</text>
<text x="531" y="633.1" font-size="17.3" text-anchor="start" fill="#231f20">S2</text>
<line x1="510.6" y1="700.4" x2="510.6" y2="746.7" stroke="#231f20" stroke-width="1.15"/>
<line x1="522.5" y1="686.6" x2="522.5" y2="726.6" stroke="#231f20" stroke-width="1.15"/>
<line x1="546.1" y1="686.6" x2="546.1" y2="746.7" stroke="#231f20" stroke-width="1.15"/>
<line x1="460.3" y1="722" x2="540.4" y2="722" stroke="#231f20" stroke-width="1.15"/>
<polygon points="510.6,722 497.6,724.4 497.6,719.6" fill="#231f20"/>
<polygon points="522.5,722 535.5,719.6 535.5,724.4" fill="#231f20"/>
<line x1="460.3" y1="742" x2="564" y2="742" stroke="#231f20" stroke-width="1.15"/>
<polygon points="510.6,742 497.6,744.4 497.6,739.6" fill="#231f20"/>
<polygon points="546.1,742 559.1,739.6 559.1,744.4" fill="#231f20"/>
<text x="463.5" y="718.4" font-size="17.3" text-anchor="start" fill="#231f20">S3</text>
<text x="463.5" y="739" font-size="17.3" text-anchor="start" fill="#231f20">S4</text>
<rect x="144.6" y="787.1" width="1076" height="50.3" fill="#dcdddd"/>
<rect x="144.6" y="862.7" width="1076" height="24.9" fill="#ededed"/>
<rect x="144.6" y="913" width="1076" height="24.9" fill="#ededed"/>
<line x1="143.7" y1="787.1" x2="1221.5" y2="787.1" stroke="#2b2b2b" stroke-width="1.8"/>
<line x1="143.7" y1="837.4" x2="1221.5" y2="837.4" stroke="#2b2b2b" stroke-width="1.8"/>
<line x1="143.7" y1="862.7" x2="1221.5" y2="862.7" stroke="#2b2b2b" stroke-width="1.8"/>
<line x1="143.7" y1="887.6" x2="1221.5" y2="887.6" stroke="#2b2b2b" stroke-width="1.8"/>
<line x1="143.7" y1="913" x2="1221.5" y2="913" stroke="#2b2b2b" stroke-width="1.8"/>
<line x1="143.7" y1="937.9" x2="1221.5" y2="937.9" stroke="#2b2b2b" stroke-width="1.8"/>
<line x1="143.7" y1="963.3" x2="1221.5" y2="963.3" stroke="#2b2b2b" stroke-width="1.8"/>
<line x1="144.6" y1="787.1" x2="144.6" y2="963.3" stroke="#2b2b2b" stroke-width="1.8"/>
<line x1="1220.6" y1="787.1" x2="1220.6" y2="963.3" stroke="#2b2b2b" stroke-width="1.8"/>
<line x1="234.8" y1="787.1" x2="234.8" y2="937.9" stroke="#2b2b2b" stroke-width="1.8"/>
<line x1="271.4" y1="837.4" x2="271.4" y2="937.9" stroke="#2b2b2b" stroke-width="1.6"/>
<line x1="308.2" y1="837.4" x2="308.2" y2="937.9" stroke="#2b2b2b" stroke-width="1.6"/>
<line x1="345" y1="837.4" x2="345" y2="937.9" stroke="#2b2b2b" stroke-width="1.6"/>
<line x1="381.5" y1="837.4" x2="381.5" y2="937.9" stroke="#2b2b2b" stroke-width="1.6"/>
<line x1="417.9" y1="837.4" x2="417.9" y2="937.9" stroke="#2b2b2b" stroke-width="1.6"/>
<line x1="454.2" y1="837.4" x2="454.2" y2="937.9" stroke="#2b2b2b" stroke-width="1.6"/>
<line x1="490.6" y1="837.4" x2="490.6" y2="937.9" stroke="#2b2b2b" stroke-width="1.6"/>
<line x1="527.3" y1="837.4" x2="527.3" y2="937.9" stroke="#2b2b2b" stroke-width="1.6"/>
<line x1="564" y1="837.4" x2="564" y2="937.9" stroke="#2b2b2b" stroke-width="1.6"/>
<line x1="600.4" y1="837.4" x2="600.4" y2="937.9" stroke="#2b2b2b" stroke-width="1.6"/>
<line x1="636.7" y1="837.4" x2="636.7" y2="937.9" stroke="#2b2b2b" stroke-width="1.6"/>
<line x1="673.1" y1="837.4" x2="673.1" y2="937.9" stroke="#2b2b2b" stroke-width="1.6"/>
<line x1="709.9" y1="837.4" x2="709.9" y2="937.9" stroke="#2b2b2b" stroke-width="1.6"/>
<line x1="746.4" y1="837.4" x2="746.4" y2="937.9" stroke="#2b2b2b" stroke-width="1.6"/>
<line x1="792.7" y1="837.4" x2="792.7" y2="937.9" stroke="#2b2b2b" stroke-width="1.6"/>
<line x1="819.1" y1="837.4" x2="819.1" y2="937.9" stroke="#2b2b2b" stroke-width="1.6"/>
<line x1="847" y1="837.4" x2="847" y2="937.9" stroke="#2b2b2b" stroke-width="1.6"/>
<line x1="892.3" y1="837.4" x2="892.3" y2="937.9" stroke="#2b2b2b" stroke-width="1.6"/>
<line x1="929" y1="837.4" x2="929" y2="937.9" stroke="#2b2b2b" stroke-width="1.6"/>
<line x1="965.4" y1="837.4" x2="965.4" y2="937.9" stroke="#2b2b2b" stroke-width="1.6"/>
<line x1="1002" y1="837.4" x2="1002" y2="937.9" stroke="#2b2b2b" stroke-width="1.6"/>
<line x1="1038.6" y1="837.4" x2="1038.6" y2="937.9" stroke="#2b2b2b" stroke-width="1.6"/>
<line x1="1075.4" y1="837.4" x2="1075.4" y2="937.9" stroke="#2b2b2b" stroke-width="1.6"/>
<line x1="1111.5" y1="837.4" x2="1111.5" y2="937.9" stroke="#2b2b2b" stroke-width="1.6"/>
<line x1="1147.9" y1="837.4" x2="1147.9" y2="937.9" stroke="#2b2b2b" stroke-width="1.6"/>
<line x1="1184.4" y1="837.4" x2="1184.4" y2="937.9" stroke="#2b2b2b" stroke-width="1.6"/>
<line x1="144.6" y1="787.1" x2="234.8" y2="837.4" stroke="#2b2b2b" stroke-width="1.3"/>
<text x="721.2" y="820.6" font-size="22.2" text-anchor="middle" fill="#1a1a1a">PVFN−L1</text>
<text x="215.8" y="804.5" font-size="16.5" text-anchor="middle" fill="#1a1a1a">代号</text>
<text x="168.5" y="829.7" font-size="16.5" text-anchor="middle" fill="#1a1a1a">机型</text>
<text x="253.4" y="856.55" font-size="17.5" text-anchor="middle" fill="#1a1a1a">D1</text>
<text x="290.1" y="856.55" font-size="17.5" text-anchor="middle" fill="#1a1a1a">D2</text>
<text x="326.9" y="856.55" font-size="17.5" text-anchor="middle" fill="#1a1a1a">D3</text>
<text x="363.55" y="856.55" font-size="17.5" text-anchor="middle" fill="#1a1a1a">D4</text>
<text x="400" y="856.55" font-size="17.5" text-anchor="middle" fill="#1a1a1a">D5</text>
<text x="436.35" y="856.55" font-size="17.5" text-anchor="middle" fill="#1a1a1a">D6</text>
<text x="472.7" y="856.55" font-size="17.5" text-anchor="middle" fill="#1a1a1a">D7</text>
<text x="509.25" y="856.55" font-size="17.5" text-anchor="middle" fill="#1a1a1a">D8</text>
<text x="545.95" y="856.55" font-size="17.5" text-anchor="middle" fill="#1a1a1a">D9</text>
<text x="582.5" y="856.55" font-size="17.5" text-anchor="middle" fill="#1a1a1a">L1</text>
<text x="618.85" y="856.55" font-size="17.5" text-anchor="middle" fill="#1a1a1a">L2</text>
<text x="655.2" y="856.55" font-size="17.5" text-anchor="middle" fill="#1a1a1a">L3</text>
<text x="691.8" y="856.55" font-size="17.5" text-anchor="middle" fill="#1a1a1a">L4</text>
<text x="728.45" y="856.55" font-size="17.5" text-anchor="middle" fill="#1a1a1a">L5</text>
<text x="769.85" y="856.55" font-size="17.5" text-anchor="middle" fill="#1a1a1a">L6</text>
<text x="806.2" y="856.55" font-size="17.5" text-anchor="middle" fill="#1a1a1a">L7</text>
<text x="833.35" y="856.55" font-size="17.5" text-anchor="middle" fill="#1a1a1a">L8</text>
<text x="869.95" y="856.55" font-size="17.5" text-anchor="middle" fill="#1a1a1a">L9</text>
<text x="910.95" y="856.55" font-size="17.5" text-anchor="middle" fill="#1a1a1a">A1</text>
<text x="947.5" y="856.55" font-size="17.5" text-anchor="middle" fill="#1a1a1a">A2</text>
<text x="984" y="856.55" font-size="17.5" text-anchor="middle" fill="#1a1a1a">S1</text>
<text x="1020.6" y="856.55" font-size="17.5" text-anchor="middle" fill="#1a1a1a">S2</text>
<text x="1057.3" y="856.55" font-size="17.5" text-anchor="middle" fill="#1a1a1a">S3</text>
<text x="1093.75" y="856.55" font-size="17.5" text-anchor="middle" fill="#1a1a1a">S4</text>
<text x="1130" y="856.55" font-size="17.5" text-anchor="middle" fill="#1a1a1a">B</text>
<text x="1166.45" y="856.55" font-size="17.5" text-anchor="middle" fill="#1a1a1a">H</text>
<text x="1202.8" y="856.55" font-size="17.5" text-anchor="middle" fill="#1a1a1a">C</text>
<text x="146.4" y="881.65" font-size="17.5" fill="#1a1a1a" textLength="76.5" lengthAdjust="spacingAndGlyphs">PVFN60-L1</text>
<text x="253.4" y="881.65" font-size="17.5" text-anchor="middle" fill="#1a1a1a">14</text>
<text x="290.1" y="881.65" font-size="17.5" text-anchor="middle" fill="#1a1a1a">17</text>
<text x="326.9" y="881.65" font-size="17.5" text-anchor="middle" fill="#1a1a1a">50</text>
<text x="363.55" y="881.65" font-size="17.5" text-anchor="middle" fill="#1a1a1a">14</text>
<text x="400" y="881.65" font-size="17.5" text-anchor="middle" fill="#1a1a1a">50</text>
<text x="436.35" y="881.65" font-size="17.5" text-anchor="middle" fill="#1a1a1a">70</text>
<text x="472.7" y="881.65" font-size="17.5" text-anchor="middle" fill="#1a1a1a">5.5</text>
<text x="509.25" y="881.65" font-size="17.5" text-anchor="middle" fill="#1a1a1a">70</text>
<text x="545.95" y="881.65" font-size="17.5" text-anchor="middle" fill="#1a1a1a">M4</text>
<text x="582.5" y="881.65" font-size="17.5" text-anchor="middle" fill="#1a1a1a">30</text>
<text x="618.85" y="881.65" font-size="17.5" text-anchor="middle" fill="#1a1a1a">35</text>
<text x="655.2" y="881.65" font-size="17.5" text-anchor="middle" fill="#1a1a1a">7</text>
<text x="691.8" y="881.65" font-size="17.5" text-anchor="middle" fill="#1a1a1a">11</text>
<text x="728.45" y="881.65" font-size="17.5" text-anchor="middle" fill="#1a1a1a">40</text>
<text x="769.85" y="881.65" font-size="17.5" text-anchor="middle" fill="#1a1a1a">111.5</text>
<text x="806.2" y="881.65" font-size="17.5" text-anchor="middle" fill="#1a1a1a">5</text>
<text x="833.35" y="881.65" font-size="17.5" text-anchor="middle" fill="#1a1a1a">31</text>
<text x="869.95" y="881.65" font-size="17.5" text-anchor="middle" fill="#1a1a1a">100.5</text>
<text x="910.95" y="881.65" font-size="17.5" text-anchor="middle" fill="#1a1a1a">60</text>
<text x="947.5" y="881.65" font-size="17.5" text-anchor="middle" fill="#1a1a1a">60</text>
<text x="984" y="881.65" font-size="17.5" text-anchor="middle" fill="#1a1a1a">3</text>
<text x="1020.6" y="881.65" font-size="17.5" text-anchor="middle" fill="#1a1a1a">20</text>
<text x="1057.3" y="881.65" font-size="17.5" text-anchor="middle" fill="#1a1a1a">5</text>
<text x="1093.75" y="881.65" font-size="17.5" text-anchor="middle" fill="#1a1a1a">18</text>
<text x="1130" y="881.65" font-size="17.5" text-anchor="middle" fill="#1a1a1a">5</text>
<text x="1166.45" y="881.65" font-size="17.5" text-anchor="middle" fill="#1a1a1a">16</text>
<text x="1202.8" y="881.65" font-size="17.5" text-anchor="middle" fill="#1a1a1a">M5</text>
<text x="146.4" y="906.8" font-size="17.5" fill="#1a1a1a" textLength="76.5" lengthAdjust="spacingAndGlyphs">PVFN90-L1</text>
<text x="253.4" y="906.8" font-size="17.5" text-anchor="middle" fill="#1a1a1a">20</text>
<text x="290.1" y="906.8" font-size="17.5" text-anchor="middle" fill="#1a1a1a">25</text>
<text x="326.9" y="906.8" font-size="17.5" text-anchor="middle" fill="#1a1a1a">80</text>
<text x="363.55" y="906.8" font-size="17.5" text-anchor="middle" fill="#1a1a1a">19</text>
<text x="400" y="906.8" font-size="17.5" text-anchor="middle" fill="#1a1a1a">70</text>
<text x="436.35" y="906.8" font-size="17.5" text-anchor="middle" fill="#1a1a1a">100</text>
<text x="472.7" y="906.8" font-size="17.5" text-anchor="middle" fill="#1a1a1a">6.5</text>
<text x="509.25" y="906.8" font-size="17.5" text-anchor="middle" fill="#1a1a1a">90</text>
<text x="545.95" y="906.8" font-size="17.5" text-anchor="middle" fill="#1a1a1a">M5</text>
<text x="582.5" y="906.8" font-size="17.5" text-anchor="middle" fill="#1a1a1a">36</text>
<text x="618.85" y="906.8" font-size="17.5" text-anchor="middle" fill="#1a1a1a">40.5</text>
<text x="655.2" y="906.8" font-size="17.5" text-anchor="middle" fill="#1a1a1a">7</text>
<text x="691.8" y="906.8" font-size="17.5" text-anchor="middle" fill="#1a1a1a">10</text>
<text x="728.45" y="906.8" font-size="17.5" text-anchor="middle" fill="#1a1a1a">57.5</text>
<text x="769.85" y="906.8" font-size="17.5" text-anchor="middle" fill="#1a1a1a">151.5</text>
<text x="806.2" y="906.8" font-size="17.5" text-anchor="middle" fill="#1a1a1a">5</text>
<text x="833.35" y="906.8" font-size="17.5" text-anchor="middle" fill="#1a1a1a">45</text>
<text x="869.95" y="906.8" font-size="17.5" text-anchor="middle" fill="#1a1a1a">130</text>
<text x="910.95" y="906.8" font-size="17.5" text-anchor="middle" fill="#1a1a1a">90</text>
<text x="947.5" y="906.8" font-size="17.5" text-anchor="middle" fill="#1a1a1a">90</text>
<text x="984" y="906.8" font-size="17.5" text-anchor="middle" fill="#1a1a1a">3</text>
<text x="1020.6" y="906.8" font-size="17.5" text-anchor="middle" fill="#1a1a1a">25</text>
<text x="1057.3" y="906.8" font-size="17.5" text-anchor="middle" fill="#1a1a1a">6</text>
<text x="1093.75" y="906.8" font-size="17.5" text-anchor="middle" fill="#1a1a1a">18</text>
<text x="1130" y="906.8" font-size="17.5" text-anchor="middle" fill="#1a1a1a">6</text>
<text x="1166.45" y="906.8" font-size="17.5" text-anchor="middle" fill="#1a1a1a">22.5</text>
<text x="1202.8" y="906.8" font-size="17.5" text-anchor="middle" fill="#1a1a1a">M6</text>
<text x="146.4" y="931.95" font-size="17.5" fill="#1a1a1a" textLength="85.5" lengthAdjust="spacingAndGlyphs">PVFN120-L1</text>
<text x="253.4" y="931.95" font-size="17.5" text-anchor="middle" fill="#1a1a1a">25</text>
<text x="290.1" y="931.95" font-size="17.5" text-anchor="middle" fill="#1a1a1a">35</text>
<text x="326.9" y="931.95" font-size="17.5" text-anchor="middle" fill="#1a1a1a">110</text>
<text x="363.55" y="931.95" font-size="17.5" text-anchor="middle" fill="#1a1a1a">22</text>
<text x="400" y="931.95" font-size="17.5" text-anchor="middle" fill="#1a1a1a">110</text>
<text x="436.35" y="931.95" font-size="17.5" text-anchor="middle" fill="#1a1a1a">130</text>
<text x="472.7" y="931.95" font-size="17.5" text-anchor="middle" fill="#1a1a1a">8.5</text>
<text x="509.25" y="931.95" font-size="17.5" text-anchor="middle" fill="#1a1a1a">145</text>
<text x="545.95" y="931.95" font-size="17.5" text-anchor="middle" fill="#1a1a1a">M8</text>
<text x="582.5" y="931.95" font-size="17.5" text-anchor="middle" fill="#1a1a1a">50</text>
<text x="618.85" y="931.95" font-size="17.5" text-anchor="middle" fill="#1a1a1a">55.5</text>
<text x="655.2" y="931.95" font-size="17.5" text-anchor="middle" fill="#1a1a1a">10</text>
<text x="691.8" y="931.95" font-size="17.5" text-anchor="middle" fill="#1a1a1a">18</text>
<text x="728.45" y="931.95" font-size="17.5" text-anchor="middle" fill="#1a1a1a">72.5</text>
<text x="769.85" y="931.95" font-size="17.5" text-anchor="middle" fill="#1a1a1a">196.5</text>
<text x="806.2" y="931.95" font-size="17.5" text-anchor="middle" fill="#1a1a1a">7</text>
<text x="833.35" y="931.95" font-size="17.5" text-anchor="middle" fill="#1a1a1a">64</text>
<text x="869.95" y="931.95" font-size="17.5" text-anchor="middle" fill="#1a1a1a">169</text>
<text x="910.95" y="931.95" font-size="17.5" text-anchor="middle" fill="#1a1a1a">120</text>
<text x="947.5" y="931.95" font-size="17.5" text-anchor="middle" fill="#1a1a1a">120</text>
<text x="984" y="931.95" font-size="17.5" text-anchor="middle" fill="#1a1a1a">5</text>
<text x="1020.6" y="931.95" font-size="17.5" text-anchor="middle" fill="#1a1a1a">40</text>
<text x="1057.3" y="931.95" font-size="17.5" text-anchor="middle" fill="#1a1a1a">8</text>
<text x="1093.75" y="931.95" font-size="17.5" text-anchor="middle" fill="#1a1a1a">25</text>
<text x="1130" y="931.95" font-size="17.5" text-anchor="middle" fill="#1a1a1a">8</text>
<text x="1166.45" y="931.95" font-size="17.5" text-anchor="middle" fill="#1a1a1a">28</text>
<text x="1201.5" y="931.95" font-size="17.5" text-anchor="middle" fill="#1a1a1a" textLength="31.5" lengthAdjust="spacingAndGlyphs">M10</text>
<text x="721.2" y="956.2" font-size="18" text-anchor="middle" fill="#1a1a1a">客户定制</text>
<polygon points="186.81,1226.4 186.81,1288.74 309.5,1288.74 309.5,1226.4" fill="#ecedec" stroke="#231f20" stroke-width="2.0" stroke-linejoin="miter"/>
<line x1="186.81" y1="1241.46" x2="309.5" y2="1241.46" stroke="#231f20" stroke-width="2.0"/>
<line x1="195.28" y1="1235.19" x2="195.28" y2="1288.74" stroke="#231f20" stroke-width="2.0"/>
<line x1="301.24" y1="1235.19" x2="301.24" y2="1288.74" stroke="#231f20" stroke-width="2.0"/>
<circle cx="267.98" cy="1273.57" r="8.37" fill="none" stroke="#231f20" stroke-width="2.0"/>
<polygon points="195.18,1113.01 301.14,1113.01 309.5,1121.38 309.5,1226.82 301.14,1235.19 195.18,1235.19 186.81,1226.82 186.81,1121.38" fill="#ecedec" stroke="#231f20" stroke-width="2.0" stroke-linejoin="miter"/>
<circle cx="248" cy="1174.1" r="67.99" fill="none" stroke="#231f20" stroke-width="1.15" stroke-dasharray="7,4"/>
<circle cx="248" cy="1174.1" r="54.39" fill="none" stroke="#231f20" stroke-width="2.0"/>
<circle cx="248" cy="1174.1" r="35.56" fill="none" stroke="#231f20" stroke-width="2.0"/>
<line x1="199.88" y1="1174.1" x2="296.12" y2="1174.1" stroke="#231f20" stroke-width="1.15" stroke-dasharray="10,3,4,3"/>
<line x1="248" y1="1125.98" x2="248" y2="1222.22" stroke="#231f20" stroke-width="1.15" stroke-dasharray="10,3,4,3"/>
<circle cx="296.82" cy="1196.87" r="5.54" fill="#ecedec" stroke="#231f20" stroke-width="2.1"/>
<circle cx="296.82" cy="1196.87" r="3.14" fill="#fff" stroke="#231f20" stroke-width="1.7"/>
<circle cx="270.77" cy="1222.92" r="5.54" fill="#ecedec" stroke="#231f20" stroke-width="2.1"/>
<circle cx="270.77" cy="1222.92" r="3.14" fill="#fff" stroke="#231f20" stroke-width="1.7"/>
<circle cx="225.23" cy="1222.92" r="5.54" fill="#ecedec" stroke="#231f20" stroke-width="2.1"/>
<circle cx="225.23" cy="1222.92" r="3.14" fill="#fff" stroke="#231f20" stroke-width="1.7"/>
<circle cx="199.18" cy="1196.87" r="5.54" fill="#ecedec" stroke="#231f20" stroke-width="2.1"/>
<circle cx="199.18" cy="1196.87" r="3.14" fill="#fff" stroke="#231f20" stroke-width="1.7"/>
<circle cx="199.18" cy="1151.33" r="5.54" fill="#ecedec" stroke="#231f20" stroke-width="2.1"/>
<circle cx="199.18" cy="1151.33" r="3.14" fill="#fff" stroke="#231f20" stroke-width="1.7"/>
<circle cx="225.23" cy="1125.28" r="5.54" fill="#ecedec" stroke="#231f20" stroke-width="2.1"/>
<circle cx="225.23" cy="1125.28" r="3.14" fill="#fff" stroke="#231f20" stroke-width="1.7"/>
<circle cx="270.77" cy="1125.28" r="5.54" fill="#ecedec" stroke="#231f20" stroke-width="2.1"/>
<circle cx="270.77" cy="1125.28" r="3.14" fill="#fff" stroke="#231f20" stroke-width="1.7"/>
<circle cx="296.82" cy="1151.33" r="5.54" fill="#ecedec" stroke="#231f20" stroke-width="2.1"/>
<circle cx="296.82" cy="1151.33" r="3.14" fill="#fff" stroke="#231f20" stroke-width="1.7"/>
<circle cx="199.88" cy="1126.19" r="4.29" fill="#ecedec" stroke="#231f20" stroke-width="1.5"/>
<line x1="196.75" y1="1123.06" x2="203.02" y2="1129.33" stroke="#231f20" stroke-width="1.0"/>
<line x1="196.75" y1="1129.33" x2="203.02" y2="1123.06" stroke="#231f20" stroke-width="1.0"/>
<circle cx="199.88" cy="1222.01" r="4.29" fill="#ecedec" stroke="#231f20" stroke-width="1.5"/>
<line x1="196.75" y1="1218.87" x2="203.02" y2="1225.14" stroke="#231f20" stroke-width="1.0"/>
<line x1="196.75" y1="1225.14" x2="203.02" y2="1218.87" stroke="#231f20" stroke-width="1.0"/>
<circle cx="296.12" cy="1126.19" r="4.29" fill="#ecedec" stroke="#231f20" stroke-width="1.5"/>
<line x1="292.98" y1="1123.06" x2="299.25" y2="1129.33" stroke="#231f20" stroke-width="1.0"/>
<line x1="292.98" y1="1129.33" x2="299.25" y2="1123.06" stroke="#231f20" stroke-width="1.0"/>
<circle cx="296.12" cy="1222.01" r="4.29" fill="#ecedec" stroke="#231f20" stroke-width="1.5"/>
<line x1="292.98" y1="1218.87" x2="299.25" y2="1225.14" stroke="#231f20" stroke-width="1.0"/>
<line x1="292.98" y1="1225.14" x2="299.25" y2="1218.87" stroke="#231f20" stroke-width="1.0"/>
<circle cx="248" cy="1174.1" r="17.99" fill="#ecedec" stroke="#231f20" stroke-width="1.9"/>
<circle cx="248" cy="1174.1" r="16.21" fill="none" stroke="#231f20" stroke-width="0.9"/>
<circle cx="248" cy="1174.1" r="13.39" fill="#f4f4f4" stroke="#231f20" stroke-width="1.5"/>
<circle cx="248" cy="1174.1" r="6.49" fill="#2a2526" stroke="#231f20" stroke-width="1"/>
<line x1="246.5" y1="1174.1" x2="249.5" y2="1174.1" stroke="#ddd" stroke-width="0.6"/>
<line x1="248" y1="1172.6" x2="248" y2="1175.6" stroke="#ddd" stroke-width="0.6"/>
<rect x="261.81" y="1169.08" width="2.72" height="9.62" fill="#ecedec" stroke="#231f20" stroke-width="1.2"/>
<rect x="241.2" y="1190.31" width="6.38" height="5.75" fill="#ecedec" stroke="#231f20" stroke-width="1.6"/>
<rect x="249.26" y="1190.31" width="6.38" height="5.75" fill="#ecedec" stroke="#231f20" stroke-width="1.6"/>
<line x1="199.88" y1="1174.1" x2="296.12" y2="1174.1" stroke="#231f20" stroke-width="1.15" stroke-dasharray="10,3,4,3"/>
<line x1="248" y1="1125.98" x2="248" y2="1222.22" stroke="#231f20" stroke-width="1.15" stroke-dasharray="10,3,4,3"/>
<line x1="153.5" y1="1086.5" x2="194.5" y2="1086.5" stroke="#231f20" stroke-width="1.1"/>
<line x1="194.5" y1="1086.5" x2="282.08" y2="1229.91" stroke="#231f20" stroke-width="1.1"/>
<polygon points="213.92,1118.29 221.87,1126.33 217.43,1129.04" fill="#231f20"/>
<polygon points="282.08,1229.91 274.13,1221.87 278.57,1219.16" fill="#231f20"/>
<text x="155.3" y="1082.6" font-size="17.3" text-anchor="start" fill="#231f20">ØD6</text>
<line x1="296.12" y1="1222.01" x2="337.3" y2="1262" stroke="#231f20" stroke-width="1.0"/>
<line x1="337.3" y1="1262" x2="397.7" y2="1262" stroke="#231f20" stroke-width="1.1"/>
<polygon points="298.97,1224.78 309.97,1232.11 306.62,1235.55" fill="#231f20"/>
<text x="343.8" y="1259" font-size="17.3" text-anchor="start" fill="#231f20">4-ØD7</text>
<line x1="304.27" y1="1113.01" x2="347.83" y2="1113.01" stroke="#231f20" stroke-width="1.15"/>
<line x1="312.64" y1="1235.19" x2="347.83" y2="1235.19" stroke="#231f20" stroke-width="1.15"/>
<line x1="342.6" y1="1113.01" x2="342.6" y2="1235.19" stroke="#231f20" stroke-width="1.15"/>
<polygon points="342.6,1113.01 345,1126.01 340.2,1126.01" fill="#231f20"/>
<polygon points="342.6,1235.19 340.2,1222.19 345,1222.19" fill="#231f20"/>
<g transform="translate(340.3 1188.8) rotate(-90)"><rect x="0.6" y="-8.6" width="9" height="8.2" fill="none" stroke="#231f20" stroke-width="1"/><text x="10.6" y="0" font-size="17.3" fill="#231f20">A1</text></g>
<text x="231.5" y="1055.5" font-size="16.5" text-anchor="start" fill="#231f20">输出</text>
<polygon points="561.4,1113.6 722.7,1113.6 803.1,1198.8 803.1,1288.7 681.2,1288.7 681.2,1234.8 561.4,1234.8" fill="#ecedec" stroke="#231f20" stroke-width="0" stroke-linejoin="miter"/>
<rect x="506.6" y="1160.7" width="48.5" height="27.2" fill="#ecedec" stroke="#231f20" stroke-width="2.0"/>
<rect x="510.3" y="1170" width="35.2" height="8.8" rx="4.4" fill="#f2f2f2" stroke="#231f20" stroke-width="1.6"/>
<rect x="554.7" y="1157.5" width="2.6" height="33.7" fill="#555" stroke="#231f20" stroke-width="1.4"/>
<rect x="557.3" y="1120.5" width="4.1" height="107.1" fill="#ecedec" stroke="#231f20" stroke-width="1.3"/>
<line x1="557.3" y1="1129" x2="561.4" y2="1129" stroke="#231f20" stroke-width="1.0"/>
<line x1="557.3" y1="1138" x2="561.4" y2="1138" stroke="#231f20" stroke-width="1.0"/>
<line x1="557.3" y1="1157.5" x2="561.4" y2="1157.5" stroke="#231f20" stroke-width="1.0"/>
<line x1="557.3" y1="1191.2" x2="561.4" y2="1191.2" stroke="#231f20" stroke-width="1.0"/>
<line x1="557.3" y1="1209" x2="561.4" y2="1209" stroke="#231f20" stroke-width="1.0"/>
<line x1="557.3" y1="1218" x2="561.4" y2="1218" stroke="#231f20" stroke-width="1.0"/>
<polygon points="561.4,1113.6 722.7,1113.6 803.1,1198.8 803.1,1288.7 681.2,1288.7 681.2,1234.8 561.4,1234.8" fill="none" stroke="#231f20" stroke-width="2.0" stroke-linejoin="miter"/>
<line x1="575.2" y1="1113.6" x2="575.2" y2="1234.8" stroke="#231f20" stroke-width="2.0"/>
<line x1="604.7" y1="1113.6" x2="604.7" y2="1234.8" stroke="#231f20" stroke-width="2.0"/>
<line x1="675.9" y1="1113.6" x2="675.9" y2="1234.8" stroke="#231f20" stroke-width="2.0"/>
<line x1="575.2" y1="1127.9" x2="604.7" y2="1127.9" stroke="#231f20" stroke-width="2.0"/>
<line x1="575.2" y1="1135.1" x2="604.7" y2="1135.1" stroke="#231f20" stroke-width="2.0"/>
<line x1="575.2" y1="1214.2" x2="604.7" y2="1214.2" stroke="#231f20" stroke-width="2.0"/>
<line x1="575.2" y1="1221.2" x2="604.7" y2="1221.2" stroke="#231f20" stroke-width="2.0"/>
<line x1="561.4" y1="1122" x2="575.2" y2="1122" stroke="#231f20" stroke-width="1.3"/>
<line x1="561.4" y1="1226" x2="575.2" y2="1226" stroke="#231f20" stroke-width="1.3"/>
<path d="M722.7,1113.6 C724.2,1140.82 729.28,1165.02 741.5,1174.1" fill="none" stroke="#231f20" stroke-width="1.6"/>
<line x1="690.8" y1="1174.1" x2="741.5" y2="1174.1" stroke="#231f20" stroke-width="2.0"/>
<line x1="741.5" y1="1174.1" x2="792.9" y2="1228.7" stroke="#231f20" stroke-width="2.0"/>
<path d="M792.9,1228.7 Q795.9,1225.2 803.1,1225" fill="none" stroke="#231f20" stroke-width="1.4"/>
<path d="M690.8,1174.1 C690.3,1188.1 684.2,1201 681.2,1207" fill="none" stroke="#231f20" stroke-width="1.6"/>
<line x1="681.2" y1="1207" x2="681.2" y2="1288.7" stroke="#231f20" stroke-width="2.0"/>
<line x1="690.2" y1="1174.1" x2="690.2" y2="1288.7" stroke="#231f20" stroke-width="2.0"/>
<line x1="681.2" y1="1242.1" x2="803.1" y2="1242.1" stroke="#231f20" stroke-width="2.0"/>
<line x1="794.9" y1="1228.7" x2="794.9" y2="1288.7" stroke="#231f20" stroke-width="2.0"/>
<line x1="728.7" y1="1228.5" x2="754.3" y2="1228.5" stroke="#231f20" stroke-width="1.1" stroke-dasharray="5,3"/>
<line x1="728.7" y1="1228.5" x2="728.7" y2="1288.7" stroke="#231f20" stroke-width="1.1" stroke-dasharray="5,3"/>
<line x1="754.3" y1="1228.5" x2="754.3" y2="1288.7" stroke="#231f20" stroke-width="1.1" stroke-dasharray="5,3"/>
<line x1="695.3" y1="1288.7" x2="695.3" y2="1280.9" stroke="#231f20" stroke-width="1.1" stroke-dasharray="5,3"/>
<line x1="695.3" y1="1280.9" x2="728.7" y2="1280.9" stroke="#231f20" stroke-width="1.1" stroke-dasharray="5,3"/>
<line x1="754.3" y1="1280.9" x2="790.4" y2="1280.9" stroke="#231f20" stroke-width="1.1" stroke-dasharray="5,3"/>
<line x1="790.4" y1="1280.9" x2="790.4" y2="1288.7" stroke="#231f20" stroke-width="1.1" stroke-dasharray="5,3"/>
<line x1="741.5" y1="1108" x2="741.5" y2="1296" stroke="#231f20" stroke-width="1.15" stroke-dasharray="14,4,6,4"/>
<line x1="497" y1="1174.1" x2="820" y2="1174.1" stroke="#231f20" stroke-width="1.15" stroke-dasharray="14,4,6,4"/>
<line x1="430" y1="1120.5" x2="556.3" y2="1120.5" stroke="#231f20" stroke-width="1.15"/>
<line x1="430" y1="1227.6" x2="556.3" y2="1227.6" stroke="#231f20" stroke-width="1.15"/>
<line x1="435.4" y1="1120.5" x2="435.4" y2="1227.6" stroke="#231f20" stroke-width="1.15"/>
<polygon points="435.4,1120.5 437.8,1133.5 433,1133.5" fill="#231f20"/>
<polygon points="435.4,1227.6 433,1214.6 437.8,1214.6" fill="#231f20"/>
<text x="432" y="1174" font-size="17.3" text-anchor="middle" fill="#231f20" transform="rotate(-90 432 1174)">ØD3<tspan font-size="13.2">g6</tspan></text>
<line x1="457.4" y1="1157.5" x2="553.1" y2="1157.5" stroke="#231f20" stroke-width="1.15"/>
<line x1="457.4" y1="1191" x2="553.1" y2="1191" stroke="#231f20" stroke-width="1.15"/>
<line x1="462.3" y1="1073" x2="462.3" y2="1210" stroke="#231f20" stroke-width="1.15"/>
<polygon points="462.3,1157.5 459.9,1144.5 464.7,1144.5" fill="#231f20"/>
<polygon points="462.3,1191 464.7,1204 459.9,1204" fill="#231f20"/>
<text x="458.7" y="1094.7" font-size="17.3" text-anchor="middle" fill="#231f20" transform="rotate(-90 458.7 1094.7)">ØD2</text>
<line x1="488.3" y1="1160.7" x2="504.4" y2="1160.7" stroke="#231f20" stroke-width="1.15"/>
<line x1="488.3" y1="1187.9" x2="504.4" y2="1187.9" stroke="#231f20" stroke-width="1.15"/>
<line x1="492.4" y1="1054" x2="492.4" y2="1207" stroke="#231f20" stroke-width="1.15"/>
<polygon points="492.4,1160.7 490,1147.7 494.8,1147.7" fill="#231f20"/>
<polygon points="492.4,1187.9 494.8,1200.9 490,1200.9" fill="#231f20"/>
<text x="489.3" y="1082.2" font-size="17.3" text-anchor="middle" fill="#231f20" transform="rotate(-90 489.3 1082.2)">ØD1<tspan font-size="13.2">h6</tspan></text>
<line x1="506.6" y1="1062.8" x2="506.6" y2="1160.7" stroke="#231f20" stroke-width="1.15"/>
<line x1="561.4" y1="1062.8" x2="561.4" y2="1113.6" stroke="#231f20" stroke-width="1.15"/>
<line x1="506.6" y1="1067.3" x2="803.1" y2="1067.3" stroke="#231f20" stroke-width="1.15"/>
<polygon points="506.6,1067.3 519.6,1064.9 519.6,1069.7" fill="#231f20"/>
<polygon points="561.4,1067.3 548.4,1069.7 548.4,1064.9" fill="#231f20"/>
<polygon points="561.4,1067.3 574.4,1064.9 574.4,1069.7" fill="#231f20"/>
<polygon points="803.1,1067.3 790.1,1069.7 790.1,1064.9" fill="#231f20"/>
<line x1="803.1" y1="1062.5" x2="803.1" y2="1198.8" stroke="#231f20" stroke-width="1.15"/>
<text x="534" y="1064.2" font-size="17.3" text-anchor="middle" fill="#231f20">L2</text>
<text x="681.8" y="1064.4" font-size="17.3" text-anchor="middle" fill="#231f20">L6</text>
<line x1="555.1" y1="1090.5" x2="555.1" y2="1157.5" stroke="#231f20" stroke-width="1.15"/>
<line x1="506.6" y1="1095.4" x2="555.1" y2="1095.4" stroke="#231f20" stroke-width="1.15"/>
<polygon points="506.6,1095.4 519.6,1093 519.6,1097.8" fill="#231f20"/>
<polygon points="555.1,1095.4 542.1,1097.8 542.1,1093" fill="#231f20"/>
<line x1="561.4" y1="1095.4" x2="675.9" y2="1095.4" stroke="#231f20" stroke-width="1.15"/>
<polygon points="561.4,1095.4 574.4,1093 574.4,1097.8" fill="#231f20"/>
<polygon points="675.9,1095.4 662.9,1097.8 662.9,1093" fill="#231f20"/>
<line x1="675.9" y1="1090.5" x2="675.9" y2="1113.6" stroke="#231f20" stroke-width="1.15"/>
<text x="531.3" y="1092.4" font-size="17.3" text-anchor="middle" fill="#231f20">L1</text>
<text x="618.1" y="1092.7" font-size="17.3" text-anchor="middle" fill="#231f20">L5</text>
<line x1="556.1" y1="1227.6" x2="556.1" y2="1258" stroke="#231f20" stroke-width="1.15"/>
<line x1="561.4" y1="1234.8" x2="561.4" y2="1280" stroke="#231f20" stroke-width="1.15"/>
<line x1="575.2" y1="1234.8" x2="575.2" y2="1280" stroke="#231f20" stroke-width="1.15"/>
<line x1="509.6" y1="1253.2" x2="580.3" y2="1253.2" stroke="#231f20" stroke-width="1.15"/>
<polygon points="556.1,1253.2 543.1,1255.6 543.1,1250.8" fill="#231f20"/>
<polygon points="561.4,1253.2 574.4,1250.8 574.4,1255.6" fill="#231f20"/>
<line x1="514.1" y1="1274.9" x2="593.9" y2="1274.9" stroke="#231f20" stroke-width="1.15"/>
<polygon points="561.4,1274.9 548.4,1277.3 548.4,1272.5" fill="#231f20"/>
<polygon points="575.2,1274.9 588.2,1272.5 588.2,1277.3" fill="#231f20"/>
<text x="521.6" y="1250.2" font-size="17.3" text-anchor="middle" fill="#231f20">L3</text>
<text x="526.1" y="1271.9" font-size="17.3" text-anchor="middle" fill="#231f20">L4</text>
<line x1="722.7" y1="1113.6" x2="884.8" y2="1113.6" stroke="#231f20" stroke-width="1.15"/>
<line x1="803.1" y1="1288.7" x2="884.8" y2="1288.7" stroke="#231f20" stroke-width="1.15"/>
<line x1="803.1" y1="1228.5" x2="857.6" y2="1228.5" stroke="#231f20" stroke-width="1.15"/>
<line x1="790.4" y1="1280.9" x2="834.2" y2="1280.9" stroke="#231f20" stroke-width="1.15"/>
<line x1="829.2" y1="1233" x2="829.2" y2="1307.4" stroke="#231f20" stroke-width="1.15"/>
<polygon points="829.2,1280.9 826.8,1267.9 831.6,1267.9" fill="#231f20"/>
<polygon points="829.2,1288.7 831.6,1301.7 826.8,1301.7" fill="#231f20"/>
<line x1="853.6" y1="1228.5" x2="853.6" y2="1288.7" stroke="#231f20" stroke-width="1.15"/>
<polygon points="853.6,1228.5 856,1241.5 851.2,1241.5" fill="#231f20"/>
<polygon points="853.6,1288.7 851.2,1275.7 856,1275.7" fill="#231f20"/>
<line x1="879.8" y1="1113.6" x2="879.8" y2="1288.7" stroke="#231f20" stroke-width="1.15"/>
<polygon points="879.8,1113.6 882.2,1126.6 877.4,1126.6" fill="#231f20"/>
<polygon points="879.8,1288.7 877.4,1275.7 882.2,1275.7" fill="#231f20"/>
<text x="827.2" y="1244.8" font-size="17.3" text-anchor="middle" fill="#231f20" transform="rotate(-90 827.2 1244.8)">L7</text>
<text x="851" y="1257" font-size="17.3" text-anchor="middle" fill="#231f20" transform="rotate(-90 851 1257)">L8</text>
<text x="877" y="1201.2" font-size="17.3" text-anchor="middle" fill="#231f20" transform="rotate(-90 877 1201.2)">L9</text>
<line x1="728.7" y1="1288.7" x2="728.7" y2="1317.4" stroke="#231f20" stroke-width="1.15"/>
<line x1="754.3" y1="1288.7" x2="754.3" y2="1317.4" stroke="#231f20" stroke-width="1.15"/>
<line x1="622.5" y1="1313.4" x2="773" y2="1313.4" stroke="#231f20" stroke-width="1.15"/>
<polygon points="728.7,1313.4 715.7,1315.8 715.7,1311" fill="#231f20"/>
<polygon points="754.3,1313.4 767.3,1311 767.3,1315.8" fill="#231f20"/>
<text x="627.3" y="1309.8" font-size="17.3" text-anchor="start" fill="#231f20">ØD4<tspan font-size="13.2">G6</tspan></text>
<line x1="695.3" y1="1288.7" x2="695.3" y2="1349.1" stroke="#231f20" stroke-width="1.15"/>
<line x1="790.4" y1="1288.7" x2="790.4" y2="1349.1" stroke="#231f20" stroke-width="1.15"/>
<line x1="695.3" y1="1344.1" x2="790.4" y2="1344.1" stroke="#231f20" stroke-width="1.15"/>
<polygon points="695.3,1344.1 708.3,1341.7 708.3,1346.5" fill="#231f20"/>
<polygon points="790.4,1344.1 777.4,1346.5 777.4,1341.7" fill="#231f20"/>
<text x="716.5" y="1340.5" font-size="17.3" text-anchor="start" fill="#231f20">ØD5<tspan font-size="13.2">G6</tspan></text>
<rect x="904.4" y="1180.5" width="48.8" height="27.6" fill="#ecedec" stroke="#231f20" stroke-width="2.0"/>
<path d="M908.5,1180.5 L909.5,1177.6 L942.2,1177.6 L943.2,1180.5" fill="#ecedec" stroke="#231f20" stroke-width="1.5"/>
<line x1="912" y1="1177.6" x2="912" y2="1180.5" stroke="#231f20" stroke-width="1.0"/>
<line x1="939.7" y1="1177.6" x2="939.7" y2="1180.5" stroke="#231f20" stroke-width="1.0"/>
<rect x="953.2" y="1177.6" width="2.3" height="34.6" fill="#ecedec" stroke="#231f20" stroke-width="1.3"/>
<rect x="955.5" y="1140.6" width="4.1" height="108.7" fill="#ecedec" stroke="#231f20" stroke-width="1.3"/>
<line x1="955.5" y1="1157" x2="959.6" y2="1157" stroke="#231f20" stroke-width="1.0"/>
<line x1="955.5" y1="1177" x2="959.6" y2="1177" stroke="#231f20" stroke-width="1.0"/>
<line x1="955.5" y1="1212" x2="959.6" y2="1212" stroke="#231f20" stroke-width="1.0"/>
<line x1="955.5" y1="1233" x2="959.6" y2="1233" stroke="#231f20" stroke-width="1.0"/>
<polygon points="959.6,1133.9 1162.64,1133.9 1171,1142.26 1171,1247.24 1162.64,1255.6 959.6,1255.6" fill="#ecedec" stroke="#231f20" stroke-width="0" stroke-linejoin="miter"/>
<line x1="973.5" y1="1133.9" x2="973.5" y2="1255.6" stroke="#231f20" stroke-width="2.0"/>
<line x1="1003.1" y1="1133.9" x2="1003.1" y2="1255.6" stroke="#231f20" stroke-width="2.0"/>
<line x1="1043.3" y1="1133.9" x2="1043.3" y2="1255.6" stroke="#231f20" stroke-width="2.0"/>
<line x1="1045.1" y1="1133.9" x2="1045.1" y2="1255.6" stroke="#231f20" stroke-width="1.2"/>
<line x1="973.5" y1="1148.2" x2="1003.1" y2="1148.2" stroke="#231f20" stroke-width="2.0"/>
<line x1="973.5" y1="1155.3" x2="1003.1" y2="1155.3" stroke="#231f20" stroke-width="2.0"/>
<line x1="973.5" y1="1234" x2="1003.1" y2="1234" stroke="#231f20" stroke-width="2.0"/>
<line x1="973.5" y1="1241" x2="1003.1" y2="1241" stroke="#231f20" stroke-width="2.0"/>
<line x1="959.6" y1="1141.7" x2="973.5" y2="1141.7" stroke="#231f20" stroke-width="1.3"/>
<line x1="959.6" y1="1248.1" x2="973.5" y2="1248.1" stroke="#231f20" stroke-width="1.3"/>
<polyline points="959.6,1133.9 1162.64,1133.9 1171,1142.26 1171,1247.24 1162.64,1255.6 959.6,1255.6 959.6,1133.9" fill="none" stroke="#231f20" stroke-width="2.0" stroke-linejoin="miter"/>
<polyline points="1056.76,1134.7 1048.4,1142.26 1048.4,1247.24 1056.76,1254.8" fill="none" stroke="#231f20" stroke-width="1.3" stroke-linejoin="miter"/>
<circle cx="1109.7" cy="1194.4" r="59.56" fill="none" stroke="#231f20" stroke-width="1.15" stroke-dasharray="8,4"/>
<path d="M1093.31,1150.1 A47.23,47.23 0 0 1 1143.51,1161.41 M1154,1178.01 A47.23,47.23 0 0 1 1142.69,1228.21 M1126.09,1238.7 A47.23,47.23 0 0 1 1075.89,1227.39 M1065.4,1210.79 A47.23,47.23 0 0 1 1076.71,1160.59 " fill="none" stroke="#231f20" stroke-width="1.8"/>
<path d="M1076.71,1160.59 A8.67,8.67 0 1 1 1093.31,1150.1" fill="none" stroke="#231f20" stroke-width="1.8"/>
<circle cx="1080.94" cy="1148.91" r="6.48" fill="#ecedec" stroke="#231f20" stroke-width="1.8"/>
<circle cx="1080.94" cy="1148.91" r="3.45" fill="#fff" stroke="#231f20" stroke-width="1.5"/>
<path d="M1143.51,1161.41 A8.67,8.67 0 1 1 1154,1178.01" fill="none" stroke="#231f20" stroke-width="1.8"/>
<circle cx="1155.19" cy="1165.64" r="6.48" fill="#ecedec" stroke="#231f20" stroke-width="1.8"/>
<circle cx="1155.19" cy="1165.64" r="3.45" fill="#fff" stroke="#231f20" stroke-width="1.5"/>
<path d="M1142.69,1228.21 A8.67,8.67 0 1 1 1126.09,1238.7" fill="none" stroke="#231f20" stroke-width="1.8"/>
<circle cx="1138.46" cy="1239.89" r="6.48" fill="#ecedec" stroke="#231f20" stroke-width="1.8"/>
<circle cx="1138.46" cy="1239.89" r="3.45" fill="#fff" stroke="#231f20" stroke-width="1.5"/>
<path d="M1075.89,1227.39 A8.67,8.67 0 1 1 1065.4,1210.79" fill="none" stroke="#231f20" stroke-width="1.8"/>
<circle cx="1064.21" cy="1223.16" r="6.48" fill="#ecedec" stroke="#231f20" stroke-width="1.8"/>
<circle cx="1064.21" cy="1223.16" r="3.45" fill="#fff" stroke="#231f20" stroke-width="1.5"/>
<circle cx="1109.7" cy="1194.4" r="39.08" fill="none" stroke="#231f20" stroke-width="1.8"/>
<circle cx="1109.7" cy="1194.4" r="32.19" fill="none" stroke="#231f20" stroke-width="1.8"/>
<circle cx="1109.7" cy="1194.4" r="26.02" fill="none" stroke="#231f20" stroke-width="1.8"/>
<circle cx="1109.7" cy="1194.4" r="12.23" fill="#f4f4f4" stroke="#231f20" stroke-width="1.6"/>
<circle cx="1100.09" cy="1176.43" r="3.24" fill="#f4f4f4" stroke="#231f20" stroke-width="1.3"/>
<circle cx="1110.54" cy="1173.71" r="2.61" fill="#f4f4f4" stroke="#231f20" stroke-width="1.2"/>
<path d="M1091.93,1214.26 L1092.98,1217.39 L1126.42,1217.39 L1127.47,1214.26" fill="none" stroke="#231f20" stroke-width="1.4"/>
<line x1="1109.7" y1="1205.89" x2="1109.7" y2="1217.39" stroke="#231f20" stroke-width="2.2"/>
<circle cx="1066.02" cy="1150.93" r="3.13" fill="#f4f4f4" stroke="#231f20" stroke-width="1.1"/>
<line x1="1063.72" y1="1153.23" x2="1068.32" y2="1148.63" stroke="#231f20" stroke-width="0.7"/>
<circle cx="1066.02" cy="1237.87" r="3.13" fill="#f4f4f4" stroke="#231f20" stroke-width="1.1"/>
<line x1="1063.72" y1="1240.17" x2="1068.32" y2="1235.57" stroke="#231f20" stroke-width="0.7"/>
<circle cx="1153.38" cy="1150.93" r="3.13" fill="#f4f4f4" stroke="#231f20" stroke-width="1.1"/>
<line x1="1151.08" y1="1153.23" x2="1155.68" y2="1148.63" stroke="#231f20" stroke-width="0.7"/>
<circle cx="1153.38" cy="1237.87" r="3.13" fill="#f4f4f4" stroke="#231f20" stroke-width="1.1"/>
<line x1="1151.08" y1="1240.17" x2="1155.68" y2="1235.57" stroke="#231f20" stroke-width="0.7"/>
<line x1="897" y1="1194.4" x2="1176" y2="1194.4" stroke="#231f20" stroke-width="1.15" stroke-dasharray="14,4,6,4"/>
<line x1="1109.7" y1="1148.42" x2="1109.7" y2="1240.38" stroke="#231f20" stroke-width="1.15" stroke-dasharray="14,4,6,4"/>
<line x1="1041" y1="1109.2" x2="1082.1" y2="1109.2" stroke="#231f20" stroke-width="1.1"/>
<line x1="1082.1" y1="1109.2" x2="1127.5" y2="1252" stroke="#231f20" stroke-width="1.0"/>
<polygon points="1095.5,1150 1101.68,1161.69 1097.1,1163.12" fill="#231f20"/>
<polygon points="1127.5,1252 1121.32,1240.31 1125.9,1238.88" fill="#231f20"/>
<text x="1043" y="1105.2" font-size="17.3" text-anchor="start" fill="#231f20">ØD8</text>
<line x1="1168" y1="1106.4" x2="1212" y2="1106.4" stroke="#231f20" stroke-width="1.1"/>
<line x1="1168" y1="1106.4" x2="1153.3" y2="1150.5" stroke="#231f20" stroke-width="1.0"/>
<polygon points="1153.3,1150.5 1155.13,1137.41 1159.69,1138.93" fill="#231f20"/>
<text x="1173" y="1103.8" font-size="17.3" text-anchor="start" fill="#231f20">4-D9</text>
<line x1="1048.4" y1="1255.6" x2="1048.4" y2="1287.2" stroke="#231f20" stroke-width="1.15"/>
<line x1="1171" y1="1255.6" x2="1171" y2="1287.2" stroke="#231f20" stroke-width="1.15"/>
<line x1="1048.4" y1="1282.2" x2="1171" y2="1282.2" stroke="#231f20" stroke-width="1.15"/>
<polygon points="1048.4,1282.2 1061.4,1279.8 1061.4,1284.6" fill="#231f20"/>
<polygon points="1171,1282.2 1158,1284.6 1158,1279.8" fill="#231f20"/>
<g transform="translate(1094.1 1279.2)"><rect x="0.6" y="-8.6" width="9" height="8.2" fill="none" stroke="#231f20" stroke-width="1"/><text x="10.6" y="0" font-size="17.3" fill="#231f20">A2</text></g>
<text x="1092.9" y="1050" font-size="16.5" text-anchor="start" fill="#231f20">输入</text>
<circle cx="303.5" cy="1378.2" r="36.61" fill="none" stroke="#231f20" stroke-width="1.15" stroke-dasharray="6,3.5"/>
<path d="M330.11,1367.45 A28.7,28.7 0 1 0 330.11,1388.95" fill="none" stroke="#231f20" stroke-width="1.8"/>
<circle cx="303.5" cy="1378.2" r="24.96" fill="none" stroke="#231f20" stroke-width="1.7"/>
<circle cx="303.5" cy="1378.2" r="21.01" fill="#eeeeee" stroke="#231f20" stroke-width="1.6"/>
<rect x="328.98" y="1368.84" width="7.8" height="8.32" fill="#fff" stroke="#231f20" stroke-width="1.5"/>
<circle cx="333.14" cy="1373" r="1.66" fill="none" stroke="#231f20" stroke-width="1.2"/>
<rect x="328.98" y="1379.24" width="7.8" height="8.32" fill="#fff" stroke="#231f20" stroke-width="1.5"/>
<circle cx="333.14" cy="1383.4" r="1.66" fill="none" stroke="#231f20" stroke-width="1.2"/>
<circle cx="303.5" cy="1378.2" r="8.94" fill="#eeeeee" stroke="#231f20" stroke-width="2.2"/>
<circle cx="303.5" cy="1378.2" r="6.55" fill="none" stroke="#231f20" stroke-width="1.2"/>
<circle cx="303.5" cy="1378.2" r="3.95" fill="#fff" stroke="#231f20" stroke-width="1.2"/>
<rect x="297.3" y="1352.82" width="12.4" height="4.58" fill="#fff" stroke="#231f20" stroke-width="1.5"/>
<line x1="297.3" y1="1318.5" x2="297.3" y2="1352.82" stroke="#231f20" stroke-width="1.0"/>
<line x1="309.7" y1="1318.5" x2="309.7" y2="1352.82" stroke="#231f20" stroke-width="1.0"/>
<line x1="274.38" y1="1378.2" x2="334.7" y2="1378.2" stroke="#231f20" stroke-width="1.15"/>
<line x1="303.5" y1="1342.84" x2="303.5" y2="1414.6" stroke="#231f20" stroke-width="1.15"/>
<line x1="301.7" y1="1378.2" x2="305.3" y2="1378.2" stroke="#231f20" stroke-width="0.8"/>
<line x1="303.5" y1="1376.4" x2="303.5" y2="1380" stroke="#231f20" stroke-width="0.8"/>
<line x1="278.2" y1="1321.5" x2="297.3" y2="1321.5" stroke="#231f20" stroke-width="1.15"/>
<polygon points="297.3,1321.5 284.3,1323.9 284.3,1319.1" fill="#231f20"/>
<line x1="309.7" y1="1321.5" x2="328.8" y2="1321.5" stroke="#231f20" stroke-width="1.15"/>
<polygon points="309.7,1321.5 322.7,1319.1 322.7,1323.9" fill="#231f20"/>
<text x="303.3" y="1318.1" font-size="17.3" text-anchor="middle" fill="#231f20">B</text>
<line x1="240" y1="1352.5" x2="303.5" y2="1352.5" stroke="#231f20" stroke-width="1.15"/>
<line x1="240" y1="1398.3" x2="303.5" y2="1398.3" stroke="#231f20" stroke-width="1.15"/>
<line x1="244.6" y1="1352.5" x2="244.6" y2="1398.3" stroke="#231f20" stroke-width="1.15"/>
<polygon points="244.6,1352.5 247,1365.5 242.2,1365.5" fill="#231f20"/>
<polygon points="244.6,1398.3 242.2,1385.3 247,1385.3" fill="#231f20"/>
<text x="241.2" y="1375.6" font-size="17.3" text-anchor="middle" fill="#231f20" transform="rotate(-90 241.2 1375.6)">H</text>
<defs><pattern id="hatch2" patternUnits="userSpaceOnUse" width="4.9" height="4.9" patternTransform="rotate(45)"><rect width="4.9" height="4.9" fill="#efefef"/><line x1="0" y1="0" x2="0" y2="4.9" stroke="#231f20" stroke-width="1.7"/></pattern></defs>
<rect x="507.6" y="1357.6" width="65.8" height="41.1" fill="url(#hatch2)" stroke="#231f20" stroke-width="2.0"/>
<rect x="513.4" y="1352.3" width="51.2" height="12.3" fill="url(#hatch2)" stroke="#231f20" stroke-width="2.0"/>
<path d="M509.6,1358.6 L512.4,1361.6 L514.4,1365.6 L563.6,1365.6 L566.6,1358.6" fill="none" stroke="#231f20" stroke-width="1.2"/>
<path d="M507.6,1371.7 L549.8,1371.7 L555.3,1377.85 L549.8,1384 L507.6,1384 Z" fill="#f2f2f2" stroke="#231f20" stroke-width="1.5"/>
<line x1="511.4" y1="1371.7" x2="511.4" y2="1384" stroke="#231f20" stroke-width="1.1"/>
<line x1="518.8" y1="1371.2" x2="518.8" y2="1384.5" stroke="#231f20" stroke-width="1.5"/>
<line x1="549.8" y1="1372.7" x2="549.8" y2="1383" stroke="#231f20" stroke-width="1.1"/>
<line x1="499" y1="1378.1" x2="581" y2="1378.1" stroke="#231f20" stroke-width="1.15" stroke-dasharray="14,4,6,4"/>
<line x1="481" y1="1371.7" x2="507.6" y2="1371.7" stroke="#231f20" stroke-width="1.15"/>
<line x1="481" y1="1384" x2="507.6" y2="1384" stroke="#231f20" stroke-width="1.15"/>
<line x1="486.2" y1="1353.5" x2="486.2" y2="1371.7" stroke="#231f20" stroke-width="1.15"/>
<polygon points="486.2,1371.7 483.8,1358.7 488.6,1358.7" fill="#231f20"/>
<line x1="486.2" y1="1384" x2="486.2" y2="1402.8" stroke="#231f20" stroke-width="1.15"/>
<polygon points="486.2,1384 488.6,1397 483.8,1397" fill="#231f20"/>
<text x="482.4" y="1378.2" font-size="17.3" text-anchor="middle" fill="#231f20" transform="rotate(-90 482.4 1378.2)">C</text>
<line x1="507.6" y1="1327" x2="507.6" y2="1357.6" stroke="#231f20" stroke-width="1.15"/>
<line x1="513.4" y1="1327" x2="513.4" y2="1352.3" stroke="#231f20" stroke-width="1.15"/>
<line x1="564.6" y1="1327" x2="564.6" y2="1352.3" stroke="#231f20" stroke-width="1.15"/>
<line x1="459.4" y1="1332" x2="507.6" y2="1332" stroke="#231f20" stroke-width="1.15"/>
<polygon points="507.6,1332 494.6,1334.4 494.6,1329.6" fill="#231f20"/>
<line x1="513.4" y1="1332" x2="564.6" y2="1332" stroke="#231f20" stroke-width="1.15"/>
<polygon points="513.4,1332 526.4,1329.6 526.4,1334.4" fill="#231f20"/>
<polygon points="564.6,1332 551.6,1334.4 551.6,1329.6" fill="#231f20"/>
<text x="463" y="1328.8" font-size="17.3" text-anchor="start" fill="#231f20">S1</text>
<text x="529" y="1328.8" font-size="17.3" text-anchor="start" fill="#231f20">S2</text>
<line x1="507.6" y1="1398.7" x2="507.6" y2="1451.6" stroke="#231f20" stroke-width="1.15"/>
<line x1="520.5" y1="1384" x2="520.5" y2="1426" stroke="#231f20" stroke-width="1.15"/>
<line x1="544.6" y1="1384" x2="544.6" y2="1451.6" stroke="#231f20" stroke-width="1.15"/>
<line x1="456.5" y1="1421.6" x2="538.7" y2="1421.6" stroke="#231f20" stroke-width="1.15"/>
<polygon points="507.6,1421.6 494.6,1424 494.6,1419.2" fill="#231f20"/>
<polygon points="520.5,1421.6 533.5,1419.2 533.5,1424" fill="#231f20"/>
<line x1="456.5" y1="1446.9" x2="562.8" y2="1446.9" stroke="#231f20" stroke-width="1.15"/>
<polygon points="507.6,1446.9 494.6,1449.3 494.6,1444.5" fill="#231f20"/>
<polygon points="544.6,1446.9 557.6,1444.5 557.6,1449.3" fill="#231f20"/>
<text x="460.3" y="1418.7" font-size="17.3" text-anchor="start" fill="#231f20">S3</text>
<text x="460.3" y="1444" font-size="17.3" text-anchor="start" fill="#231f20">S4</text>
<rect x="144.6" y="1489.7" width="1076" height="50.5" fill="#dcdddd"/>
<rect x="144.6" y="1565.2" width="1076" height="24.9" fill="#ededed"/>
<rect x="144.6" y="1615.2" width="1076" height="25.1" fill="#ededed"/>
<line x1="143.7" y1="1489.7" x2="1221.5" y2="1489.7" stroke="#2b2b2b" stroke-width="1.8"/>
<line x1="143.7" y1="1540.2" x2="1221.5" y2="1540.2" stroke="#2b2b2b" stroke-width="1.8"/>
<line x1="143.7" y1="1565.2" x2="1221.5" y2="1565.2" stroke="#2b2b2b" stroke-width="1.8"/>
<line x1="143.7" y1="1590.1" x2="1221.5" y2="1590.1" stroke="#2b2b2b" stroke-width="1.8"/>
<line x1="143.7" y1="1615.2" x2="1221.5" y2="1615.2" stroke="#2b2b2b" stroke-width="1.8"/>
<line x1="143.7" y1="1640.3" x2="1221.5" y2="1640.3" stroke="#2b2b2b" stroke-width="1.8"/>
<line x1="143.7" y1="1666" x2="1221.5" y2="1666" stroke="#2b2b2b" stroke-width="1.8"/>
<line x1="144.6" y1="1489.7" x2="144.6" y2="1666" stroke="#2b2b2b" stroke-width="1.8"/>
<line x1="1220.6" y1="1489.7" x2="1220.6" y2="1666" stroke="#2b2b2b" stroke-width="1.8"/>
<line x1="234.8" y1="1489.7" x2="234.8" y2="1640.3" stroke="#2b2b2b" stroke-width="1.8"/>
<line x1="271.4" y1="1540.2" x2="271.4" y2="1640.3" stroke="#2b2b2b" stroke-width="1.6"/>
<line x1="308.2" y1="1540.2" x2="308.2" y2="1640.3" stroke="#2b2b2b" stroke-width="1.6"/>
<line x1="345" y1="1540.2" x2="345" y2="1640.3" stroke="#2b2b2b" stroke-width="1.6"/>
<line x1="381.5" y1="1540.2" x2="381.5" y2="1640.3" stroke="#2b2b2b" stroke-width="1.6"/>
<line x1="417.9" y1="1540.2" x2="417.9" y2="1640.3" stroke="#2b2b2b" stroke-width="1.6"/>
<line x1="454.2" y1="1540.2" x2="454.2" y2="1640.3" stroke="#2b2b2b" stroke-width="1.6"/>
<line x1="490.6" y1="1540.2" x2="490.6" y2="1640.3" stroke="#2b2b2b" stroke-width="1.6"/>
<line x1="527.3" y1="1540.2" x2="527.3" y2="1640.3" stroke="#2b2b2b" stroke-width="1.6"/>
<line x1="564" y1="1540.2" x2="564" y2="1640.3" stroke="#2b2b2b" stroke-width="1.6"/>
<line x1="600.4" y1="1540.2" x2="600.4" y2="1640.3" stroke="#2b2b2b" stroke-width="1.6"/>
<line x1="636.7" y1="1540.2" x2="636.7" y2="1640.3" stroke="#2b2b2b" stroke-width="1.6"/>
<line x1="673.1" y1="1540.2" x2="673.1" y2="1640.3" stroke="#2b2b2b" stroke-width="1.6"/>
<line x1="709.9" y1="1540.2" x2="709.9" y2="1640.3" stroke="#2b2b2b" stroke-width="1.6"/>
<line x1="746.4" y1="1540.2" x2="746.4" y2="1640.3" stroke="#2b2b2b" stroke-width="1.6"/>
<line x1="792.7" y1="1540.2" x2="792.7" y2="1640.3" stroke="#2b2b2b" stroke-width="1.6"/>
<line x1="819.1" y1="1540.2" x2="819.1" y2="1640.3" stroke="#2b2b2b" stroke-width="1.6"/>
<line x1="847" y1="1540.2" x2="847" y2="1640.3" stroke="#2b2b2b" stroke-width="1.6"/>
<line x1="892.3" y1="1540.2" x2="892.3" y2="1640.3" stroke="#2b2b2b" stroke-width="1.6"/>
<line x1="929" y1="1540.2" x2="929" y2="1640.3" stroke="#2b2b2b" stroke-width="1.6"/>
<line x1="965.4" y1="1540.2" x2="965.4" y2="1640.3" stroke="#2b2b2b" stroke-width="1.6"/>
<line x1="1002" y1="1540.2" x2="1002" y2="1640.3" stroke="#2b2b2b" stroke-width="1.6"/>
<line x1="1038.6" y1="1540.2" x2="1038.6" y2="1640.3" stroke="#2b2b2b" stroke-width="1.6"/>
<line x1="1075.4" y1="1540.2" x2="1075.4" y2="1640.3" stroke="#2b2b2b" stroke-width="1.6"/>
<line x1="1111.5" y1="1540.2" x2="1111.5" y2="1640.3" stroke="#2b2b2b" stroke-width="1.6"/>
<line x1="1147.9" y1="1540.2" x2="1147.9" y2="1640.3" stroke="#2b2b2b" stroke-width="1.6"/>
<line x1="1184.4" y1="1540.2" x2="1184.4" y2="1640.3" stroke="#2b2b2b" stroke-width="1.6"/>
<line x1="144.6" y1="1489.7" x2="234.8" y2="1540.2" stroke="#2b2b2b" stroke-width="1.3"/>
<text x="721.2" y="1523.2" font-size="22.2" text-anchor="middle" fill="#1a1a1a">PVFN−L2</text>
<text x="215.8" y="1507.1" font-size="16.5" text-anchor="middle" fill="#1a1a1a">代号</text>
<text x="168.5" y="1532.3" font-size="16.5" text-anchor="middle" fill="#1a1a1a">机型</text>
<text x="253.4" y="1559.2" font-size="17.5" text-anchor="middle" fill="#1a1a1a">D1</text>
<text x="290.1" y="1559.2" font-size="17.5" text-anchor="middle" fill="#1a1a1a">D2</text>
<text x="326.9" y="1559.2" font-size="17.5" text-anchor="middle" fill="#1a1a1a">D3</text>
<text x="363.55" y="1559.2" font-size="17.5" text-anchor="middle" fill="#1a1a1a">D4</text>
<text x="400" y="1559.2" font-size="17.5" text-anchor="middle" fill="#1a1a1a">D5</text>
<text x="436.35" y="1559.2" font-size="17.5" text-anchor="middle" fill="#1a1a1a">D6</text>
<text x="472.7" y="1559.2" font-size="17.5" text-anchor="middle" fill="#1a1a1a">D7</text>
<text x="509.25" y="1559.2" font-size="17.5" text-anchor="middle" fill="#1a1a1a">D8</text>
<text x="545.95" y="1559.2" font-size="17.5" text-anchor="middle" fill="#1a1a1a">D9</text>
<text x="582.5" y="1559.2" font-size="17.5" text-anchor="middle" fill="#1a1a1a">L1</text>
<text x="618.85" y="1559.2" font-size="17.5" text-anchor="middle" fill="#1a1a1a">L2</text>
<text x="655.2" y="1559.2" font-size="17.5" text-anchor="middle" fill="#1a1a1a">L3</text>
<text x="691.8" y="1559.2" font-size="17.5" text-anchor="middle" fill="#1a1a1a">L4</text>
<text x="728.45" y="1559.2" font-size="17.5" text-anchor="middle" fill="#1a1a1a">L5</text>
<text x="769.85" y="1559.2" font-size="17.5" text-anchor="middle" fill="#1a1a1a">L6</text>
<text x="806.2" y="1559.2" font-size="17.5" text-anchor="middle" fill="#1a1a1a">L7</text>
<text x="833.35" y="1559.2" font-size="17.5" text-anchor="middle" fill="#1a1a1a">L8</text>
<text x="869.95" y="1559.2" font-size="17.5" text-anchor="middle" fill="#1a1a1a">L9</text>
<text x="910.95" y="1559.2" font-size="17.5" text-anchor="middle" fill="#1a1a1a">A1</text>
<text x="947.5" y="1559.2" font-size="17.5" text-anchor="middle" fill="#1a1a1a">A2</text>
<text x="984" y="1559.2" font-size="17.5" text-anchor="middle" fill="#1a1a1a">S1</text>
<text x="1020.6" y="1559.2" font-size="17.5" text-anchor="middle" fill="#1a1a1a">S2</text>
<text x="1057.3" y="1559.2" font-size="17.5" text-anchor="middle" fill="#1a1a1a">S3</text>
<text x="1093.75" y="1559.2" font-size="17.5" text-anchor="middle" fill="#1a1a1a">S4</text>
<text x="1130" y="1559.2" font-size="17.5" text-anchor="middle" fill="#1a1a1a">B</text>
<text x="1166.45" y="1559.2" font-size="17.5" text-anchor="middle" fill="#1a1a1a">H</text>
<text x="1202.8" y="1559.2" font-size="17.5" text-anchor="middle" fill="#1a1a1a">C</text>
<text x="146.4" y="1584.15" font-size="17.5" fill="#1a1a1a" textLength="76.5" lengthAdjust="spacingAndGlyphs">PVFN60-L2</text>
<text x="253.4" y="1584.15" font-size="17.5" text-anchor="middle" fill="#1a1a1a">14</text>
<text x="290.1" y="1584.15" font-size="17.5" text-anchor="middle" fill="#1a1a1a">17</text>
<text x="326.9" y="1584.15" font-size="17.5" text-anchor="middle" fill="#1a1a1a">50</text>
<text x="363.55" y="1584.15" font-size="17.5" text-anchor="middle" fill="#1a1a1a">14</text>
<text x="400" y="1584.15" font-size="17.5" text-anchor="middle" fill="#1a1a1a">50</text>
<text x="436.35" y="1584.15" font-size="17.5" text-anchor="middle" fill="#1a1a1a">70</text>
<text x="472.7" y="1584.15" font-size="17.5" text-anchor="middle" fill="#1a1a1a">5.5</text>
<text x="509.25" y="1584.15" font-size="17.5" text-anchor="middle" fill="#1a1a1a">70</text>
<text x="545.95" y="1584.15" font-size="17.5" text-anchor="middle" fill="#1a1a1a">M4</text>
<text x="582.5" y="1584.15" font-size="17.5" text-anchor="middle" fill="#1a1a1a">30</text>
<text x="618.85" y="1584.15" font-size="17.5" text-anchor="middle" fill="#1a1a1a">35</text>
<text x="655.2" y="1584.15" font-size="17.5" text-anchor="middle" fill="#1a1a1a">7</text>
<text x="691.8" y="1584.15" font-size="17.5" text-anchor="middle" fill="#1a1a1a">11</text>
<text x="728.45" y="1584.15" font-size="17.5" text-anchor="middle" fill="#1a1a1a">57.5</text>
<text x="769.85" y="1584.15" font-size="17.5" text-anchor="middle" fill="#1a1a1a">129</text>
<text x="806.2" y="1584.15" font-size="17.5" text-anchor="middle" fill="#1a1a1a">5</text>
<text x="833.35" y="1584.15" font-size="17.5" text-anchor="middle" fill="#1a1a1a">31</text>
<text x="869.95" y="1584.15" font-size="17.5" text-anchor="middle" fill="#1a1a1a">100.5</text>
<text x="910.95" y="1584.15" font-size="17.5" text-anchor="middle" fill="#1a1a1a">60</text>
<text x="947.5" y="1584.15" font-size="17.5" text-anchor="middle" fill="#1a1a1a">60</text>
<text x="984" y="1584.15" font-size="17.5" text-anchor="middle" fill="#1a1a1a">3</text>
<text x="1020.6" y="1584.15" font-size="17.5" text-anchor="middle" fill="#1a1a1a">20</text>
<text x="1057.3" y="1584.15" font-size="17.5" text-anchor="middle" fill="#1a1a1a">5</text>
<text x="1093.75" y="1584.15" font-size="17.5" text-anchor="middle" fill="#1a1a1a">18</text>
<text x="1130" y="1584.15" font-size="17.5" text-anchor="middle" fill="#1a1a1a">5</text>
<text x="1166.45" y="1584.15" font-size="17.5" text-anchor="middle" fill="#1a1a1a">16</text>
<text x="1202.8" y="1584.15" font-size="17.5" text-anchor="middle" fill="#1a1a1a">M5</text>
<text x="146.4" y="1609.15" font-size="17.5" fill="#1a1a1a" textLength="76.5" lengthAdjust="spacingAndGlyphs">PVFN90-L2</text>
<text x="253.4" y="1609.15" font-size="17.5" text-anchor="middle" fill="#1a1a1a">20</text>
<text x="290.1" y="1609.15" font-size="17.5" text-anchor="middle" fill="#1a1a1a">25</text>
<text x="326.9" y="1609.15" font-size="17.5" text-anchor="middle" fill="#1a1a1a">80</text>
<text x="363.55" y="1609.15" font-size="17.5" text-anchor="middle" fill="#1a1a1a">19</text>
<text x="400" y="1609.15" font-size="17.5" text-anchor="middle" fill="#1a1a1a">70</text>
<text x="436.35" y="1609.15" font-size="17.5" text-anchor="middle" fill="#1a1a1a">100</text>
<text x="472.7" y="1609.15" font-size="17.5" text-anchor="middle" fill="#1a1a1a">6.5</text>
<text x="509.25" y="1609.15" font-size="17.5" text-anchor="middle" fill="#1a1a1a">90</text>
<text x="545.95" y="1609.15" font-size="17.5" text-anchor="middle" fill="#1a1a1a">M5</text>
<text x="582.5" y="1609.15" font-size="17.5" text-anchor="middle" fill="#1a1a1a">36</text>
<text x="618.85" y="1609.15" font-size="17.5" text-anchor="middle" fill="#1a1a1a">40.5</text>
<text x="655.2" y="1609.15" font-size="17.5" text-anchor="middle" fill="#1a1a1a">7</text>
<text x="691.8" y="1609.15" font-size="17.5" text-anchor="middle" fill="#1a1a1a">10</text>
<text x="728.45" y="1609.15" font-size="17.5" text-anchor="middle" fill="#1a1a1a">72.5</text>
<text x="769.85" y="1609.15" font-size="17.5" text-anchor="middle" fill="#1a1a1a">171.5</text>
<text x="806.2" y="1609.15" font-size="17.5" text-anchor="middle" fill="#1a1a1a">5</text>
<text x="833.35" y="1609.15" font-size="17.5" text-anchor="middle" fill="#1a1a1a">45</text>
<text x="869.95" y="1609.15" font-size="17.5" text-anchor="middle" fill="#1a1a1a">130</text>
<text x="910.95" y="1609.15" font-size="17.5" text-anchor="middle" fill="#1a1a1a">90</text>
<text x="947.5" y="1609.15" font-size="17.5" text-anchor="middle" fill="#1a1a1a">90</text>
<text x="984" y="1609.15" font-size="17.5" text-anchor="middle" fill="#1a1a1a">3</text>
<text x="1020.6" y="1609.15" font-size="17.5" text-anchor="middle" fill="#1a1a1a">25</text>
<text x="1057.3" y="1609.15" font-size="17.5" text-anchor="middle" fill="#1a1a1a">6</text>
<text x="1093.75" y="1609.15" font-size="17.5" text-anchor="middle" fill="#1a1a1a">18</text>
<text x="1130" y="1609.15" font-size="17.5" text-anchor="middle" fill="#1a1a1a">6</text>
<text x="1166.45" y="1609.15" font-size="17.5" text-anchor="middle" fill="#1a1a1a">22.5</text>
<text x="1202.8" y="1609.15" font-size="17.5" text-anchor="middle" fill="#1a1a1a">M6</text>
<text x="146.4" y="1634.25" font-size="17.5" fill="#1a1a1a" textLength="85.5" lengthAdjust="spacingAndGlyphs">PVFN120-L2</text>
<text x="253.4" y="1634.25" font-size="17.5" text-anchor="middle" fill="#1a1a1a">25</text>
<text x="290.1" y="1634.25" font-size="17.5" text-anchor="middle" fill="#1a1a1a">35</text>
<text x="326.9" y="1634.25" font-size="17.5" text-anchor="middle" fill="#1a1a1a">110</text>
<text x="363.55" y="1634.25" font-size="17.5" text-anchor="middle" fill="#1a1a1a">22</text>
<text x="400" y="1634.25" font-size="17.5" text-anchor="middle" fill="#1a1a1a">110</text>
<text x="436.35" y="1634.25" font-size="17.5" text-anchor="middle" fill="#1a1a1a">130</text>
<text x="472.7" y="1634.25" font-size="17.5" text-anchor="middle" fill="#1a1a1a">8.5</text>
<text x="509.25" y="1634.25" font-size="17.5" text-anchor="middle" fill="#1a1a1a">145</text>
<text x="545.95" y="1634.25" font-size="17.5" text-anchor="middle" fill="#1a1a1a">M8</text>
<text x="582.5" y="1634.25" font-size="17.5" text-anchor="middle" fill="#1a1a1a">50</text>
<text x="618.85" y="1634.25" font-size="17.5" text-anchor="middle" fill="#1a1a1a">55.5</text>
<text x="655.2" y="1634.25" font-size="17.5" text-anchor="middle" fill="#1a1a1a">10</text>
<text x="691.8" y="1634.25" font-size="17.5" text-anchor="middle" fill="#1a1a1a">18</text>
<text x="728.45" y="1634.25" font-size="17.5" text-anchor="middle" fill="#1a1a1a">105</text>
<text x="769.85" y="1634.25" font-size="17.5" text-anchor="middle" fill="#1a1a1a">229</text>
<text x="806.2" y="1634.25" font-size="17.5" text-anchor="middle" fill="#1a1a1a">7</text>
<text x="833.35" y="1634.25" font-size="17.5" text-anchor="middle" fill="#1a1a1a">64</text>
<text x="869.95" y="1634.25" font-size="17.5" text-anchor="middle" fill="#1a1a1a">169</text>
<text x="910.95" y="1634.25" font-size="17.5" text-anchor="middle" fill="#1a1a1a">120</text>
<text x="947.5" y="1634.25" font-size="17.5" text-anchor="middle" fill="#1a1a1a">120</text>
<text x="984" y="1634.25" font-size="17.5" text-anchor="middle" fill="#1a1a1a">5</text>
<text x="1020.6" y="1634.25" font-size="17.5" text-anchor="middle" fill="#1a1a1a">40</text>
<text x="1057.3" y="1634.25" font-size="17.5" text-anchor="middle" fill="#1a1a1a">8</text>
<text x="1093.75" y="1634.25" font-size="17.5" text-anchor="middle" fill="#1a1a1a">25</text>
<text x="1130" y="1634.25" font-size="17.5" text-anchor="middle" fill="#1a1a1a">8</text>
<text x="1166.45" y="1634.25" font-size="17.5" text-anchor="middle" fill="#1a1a1a">28</text>
<text x="1201.5" y="1634.25" font-size="17.5" text-anchor="middle" fill="#1a1a1a" textLength="31.5" lengthAdjust="spacingAndGlyphs">M10</text>
<text x="721.2" y="1658.6" font-size="18" text-anchor="middle" fill="#1a1a1a">客户定制</text>
<text x="1060" y="1779.4" font-size="15.5" fill="#9c9c9c" textLength="139.5" lengthAdjust="spacingAndGlyphs">www.newgearcn.com</text>
<line x1="1060" y1="1781.8" x2="1201" y2="1781.8" stroke="#b0b0b0" stroke-width="1.2"/>
<rect x="1201" y="1762.9" width="19" height="18.6" fill="#0b1d63"/>
<text x="1210.5" y="1778.6" font-size="17" fill="#fff" text-anchor="middle" textLength="17" lengthAdjust="spacingAndGlyphs">70</text>
</svg></body></html>
